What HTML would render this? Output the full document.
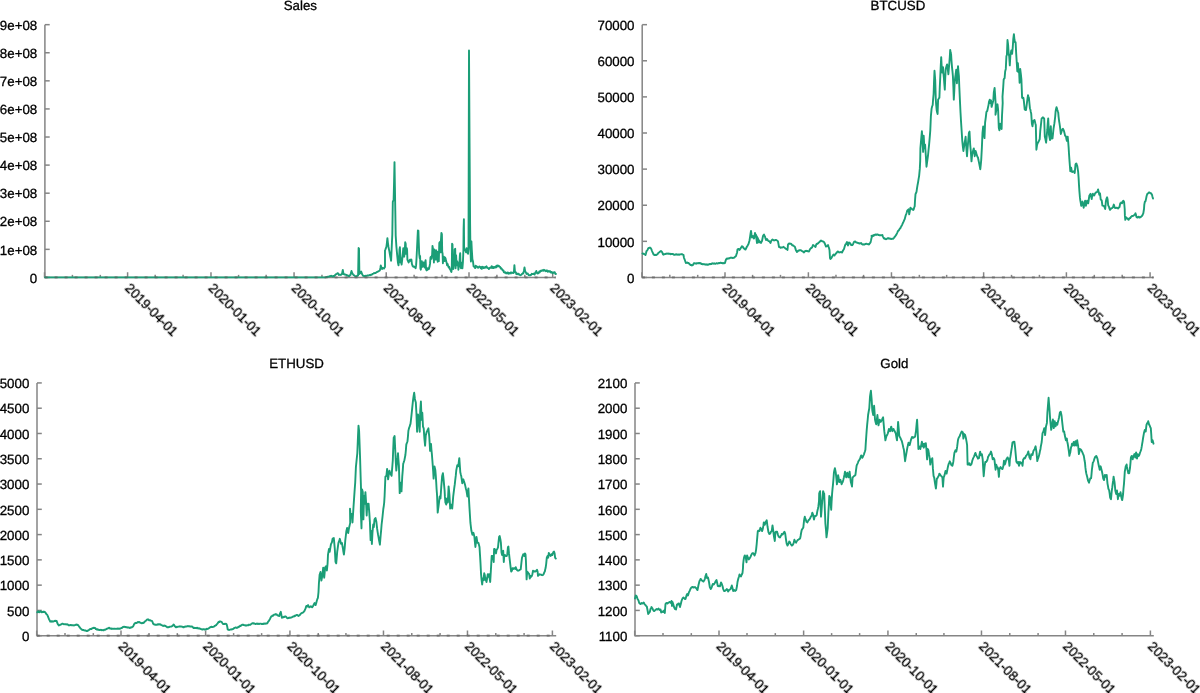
<!DOCTYPE html><html><head><meta charset="utf-8"><style>html,body{margin:0;padding:0;background:#fff;}svg{display:block} text{will-change:transform;text-rendering:geometricPrecision;stroke:#000;stroke-width:0.3px}</style></head><body>
<svg width="1200" height="693" viewBox="0 0 1200 693" font-family="Liberation Sans, sans-serif" font-size="13.3">
<rect width="1200" height="693" fill="#fff"/>
<g><text x="300.32" y="10.07" text-anchor="middle">Sales</text><line x1="44.90" y1="277.45" x2="49.70" y2="277.45" stroke="#858585" stroke-width="1.5"/><text x="37.20" y="282.65" text-anchor="end">0</text><line x1="44.90" y1="249.36" x2="49.70" y2="249.36" stroke="#858585" stroke-width="1.5"/><text x="37.20" y="254.56" text-anchor="end">1e+08</text><line x1="44.90" y1="221.28" x2="49.70" y2="221.28" stroke="#858585" stroke-width="1.5"/><text x="37.20" y="226.48" text-anchor="end">2e+08</text><line x1="44.90" y1="193.19" x2="49.70" y2="193.19" stroke="#858585" stroke-width="1.5"/><text x="37.20" y="198.39" text-anchor="end">3e+08</text><line x1="44.90" y1="165.10" x2="49.70" y2="165.10" stroke="#858585" stroke-width="1.5"/><text x="37.20" y="170.30" text-anchor="end">4e+08</text><line x1="44.90" y1="137.02" x2="49.70" y2="137.02" stroke="#858585" stroke-width="1.5"/><text x="37.20" y="142.22" text-anchor="end">5e+08</text><line x1="44.90" y1="108.93" x2="49.70" y2="108.93" stroke="#858585" stroke-width="1.5"/><text x="37.20" y="114.13" text-anchor="end">6e+08</text><line x1="44.90" y1="80.84" x2="49.70" y2="80.84" stroke="#858585" stroke-width="1.5"/><text x="37.20" y="86.04" text-anchor="end">7e+08</text><line x1="44.90" y1="52.76" x2="49.70" y2="52.76" stroke="#858585" stroke-width="1.5"/><text x="37.20" y="57.96" text-anchor="end">8e+08</text><line x1="44.90" y1="24.67" x2="49.70" y2="24.67" stroke="#858585" stroke-width="1.5"/><text x="37.20" y="29.87" text-anchor="end">9e+08</text><line x1="44.52" y1="277.45" x2="44.52" y2="272.25" stroke="#858585" stroke-width="1.5"/><line x1="127.60" y1="277.45" x2="127.60" y2="272.25" stroke="#858585" stroke-width="1.5"/><text transform="translate(124.30,288.85) rotate(45)">2019-04-01</text><line x1="210.98" y1="277.45" x2="210.98" y2="272.25" stroke="#858585" stroke-width="1.5"/><text transform="translate(207.68,288.85) rotate(45)">2020-01-01</text><line x1="294.06" y1="277.45" x2="294.06" y2="272.25" stroke="#858585" stroke-width="1.5"/><text transform="translate(290.76,288.85) rotate(45)">2020-10-01</text><line x1="386.23" y1="277.45" x2="386.23" y2="272.25" stroke="#858585" stroke-width="1.5"/><text transform="translate(382.93,288.85) rotate(45)">2021-08-01</text><line x1="469.00" y1="277.45" x2="469.00" y2="272.25" stroke="#858585" stroke-width="1.5"/><text transform="translate(465.70,288.85) rotate(45)">2022-05-01</text><line x1="552.69" y1="277.45" x2="552.69" y2="272.25" stroke="#858585" stroke-width="1.5"/><text transform="translate(549.39,288.85) rotate(45)">2023-02-01</text><line x1="72.42" y1="277.45" x2="72.42" y2="274.85" stroke="#858585" stroke-width="1.5"/><line x1="100.31" y1="277.45" x2="100.31" y2="274.85" stroke="#858585" stroke-width="1.5"/><line x1="155.19" y1="277.45" x2="155.19" y2="274.85" stroke="#858585" stroke-width="1.5"/><line x1="183.09" y1="277.45" x2="183.09" y2="274.85" stroke="#858585" stroke-width="1.5"/><line x1="238.57" y1="277.45" x2="238.57" y2="274.85" stroke="#858585" stroke-width="1.5"/><line x1="266.16" y1="277.45" x2="266.16" y2="274.85" stroke="#858585" stroke-width="1.5"/><line x1="321.95" y1="277.45" x2="321.95" y2="274.85" stroke="#858585" stroke-width="1.5"/><line x1="349.24" y1="277.45" x2="349.24" y2="274.85" stroke="#858585" stroke-width="1.5"/><line x1="414.12" y1="277.45" x2="414.12" y2="274.85" stroke="#858585" stroke-width="1.5"/><line x1="442.02" y1="277.45" x2="442.02" y2="274.85" stroke="#858585" stroke-width="1.5"/><line x1="496.90" y1="277.45" x2="496.90" y2="274.85" stroke="#858585" stroke-width="1.5"/><line x1="524.79" y1="277.45" x2="524.79" y2="274.85" stroke="#858585" stroke-width="1.5"/><path d="M44.90 24.67V277.45H555.75" fill="none" stroke="#858585" stroke-width="1.5"/><path d="M45.0 277.4 L300.0 277.4 L325.0 277.4 L329.0 276.5 L331.0 275.8 L331.5 275.9 L332.0 276.1 L332.5 276.5 L333.0 276.5 L333.5 276.0 L334.0 276.2 L334.5 275.8 L335.0 275.2 L335.5 274.8 L336.0 274.2 L336.5 274.1 L337.0 273.8 L337.5 273.2 L338.0 273.2 L338.5 274.1 L339.0 275.0 L339.4 274.7 L339.8 274.7 L340.2 274.8 L340.6 275.0 L341.0 274.8 L341.5 274.2 L342.0 274.0 L342.4 271.8 L342.8 270.0 L343.5 274.0 L344.0 274.2 L344.5 274.6 L345.0 274.5 L345.5 274.7 L346.0 274.8 L346.5 275.0 L347.0 275.6 L347.5 275.3 L348.0 275.8 L348.5 276.1 L349.0 275.8 L349.5 276.0 L350.0 275.3 L350.5 275.0 L351.0 272.8 L351.5 271.0 L352.2 273.0 L352.6 273.6 L353.1 274.5 L353.5 275.0 L354.0 275.1 L354.5 275.7 L355.0 276.0 L355.5 276.1 L356.0 276.1 L356.5 276.2 L356.9 276.1 L357.3 275.6 L357.7 275.4 L358.1 275.5 L358.6 248.0 L359.0 248.5 L359.4 274.0 L359.9 273.3 L360.5 273.0 L361.2 271.5 L361.6 272.9 L362.0 274.0 L362.5 274.9 L363.0 275.8 L363.5 275.8 L364.0 276.1 L364.5 276.2 L365.0 276.0 L365.5 275.8 L366.0 275.8 L366.4 275.9 L366.8 275.8 L367.2 275.5 L367.6 275.6 L368.0 275.5 L368.4 275.4 L368.8 275.5 L369.2 275.3 L369.6 275.0 L370.0 275.0 L370.4 275.2 L370.8 274.6 L371.2 274.6 L371.6 274.8 L372.0 274.5 L372.5 274.0 L373.0 273.8 L373.5 273.5 L374.0 273.1 L374.5 273.3 L375.0 273.0 L375.4 273.0 L375.8 272.6 L376.2 272.6 L376.6 272.1 L377.0 272.0 L377.4 271.9 L377.8 271.7 L378.2 271.4 L378.6 271.2 L379.0 271.0 L379.5 270.7 L380.0 270.0 L380.4 268.0 L380.8 265.5 L381.5 267.5 L382.2 269.0 L382.6 268.5 L383.0 268.0 L383.5 268.4 L384.0 268.5 L384.5 267.5 L385.0 267.0 L385.0 250.3 L385.5 249.3 L385.9 248.1 L386.4 246.9 L386.9 242.9 L387.4 238.2 L387.9 242.8 L388.5 246.9 L388.9 249.1 L389.4 251.4 L389.8 253.8 L390.2 256.2 L390.6 258.1 L391.1 260.7 L391.5 252.1 L391.9 243.2 L392.3 234.8 L392.8 201.9 L393.2 200.8 L393.6 200.2 L394.1 180.9 L394.5 162.1 L394.9 186.8 L395.3 211.0 L395.7 235.8 L396.4 246.6 L397.2 255.3 L397.9 262.5 L398.5 265.4 L399.0 259.6 L399.5 249.5 L399.9 247.3 L400.2 253.8 L400.6 262.5 L401.1 258.2 L401.6 264.6 L402.2 259.6 L402.8 253.8 L403.3 248.1 L403.8 248.8 L404.2 256.7 L404.7 252.4 L405.2 242.3 L405.7 243.8 L406.0 253.8 L406.4 252.4 L406.8 248.1 L407.1 250.2 L407.4 259.6 L408.0 261.1 L408.7 262.5 L409.4 260.3 L410.1 259.6 L410.9 261.1 L411.4 259.6 L411.9 263.9 L412.7 266.1 L413.4 266.8 L414.1 266.5 L414.8 267.2 L415.6 268.3 L416.1 265.4 L416.5 258.9 L417.0 248.8 L417.5 238.0 L417.9 230.4 L418.4 230.8 L418.8 243.0 L419.2 253.8 L419.7 258.2 L420.1 256.0 L420.4 268.3 L420.8 269.7 L421.3 265.4 L421.8 261.1 L422.4 266.8 L423.0 265.4 L423.5 262.5 L424.0 265.4 L424.6 267.5 L425.1 262.5 L425.6 260.3 L426.1 269.7 L426.7 270.4 L427.3 268.3 L427.8 269.7 L428.3 268.3 L428.9 269.0 L429.5 266.8 L430.0 263.9 L430.5 257.4 L431.1 256.7 L431.6 258.9 L432.1 255.3 L432.5 245.9 L432.9 248.1 L433.2 255.3 L433.6 250.2 L433.9 262.5 L434.3 249.5 L434.8 251.0 L435.2 259.6 L435.6 251.0 L436.1 250.2 L436.7 259.6 L437.2 251.7 L437.7 261.8 L438.3 251.7 L438.8 261.1 L439.3 243.0 L439.7 242.3 L440.3 241.6 L440.6 252.4 L441.0 239.4 L441.4 232.9 L441.9 234.4 L442.2 251.7 L442.6 253.8 L442.9 263.2 L443.3 256.7 L443.9 256.7 L444.4 261.1 L444.9 257.4 L445.5 258.2 L446.1 261.1 L446.6 262.5 L447.1 265.4 L447.6 263.9 L448.2 266.1 L448.7 267.5 L449.2 266.8 L449.8 269.0 L450.4 269.7 L450.9 271.1 L451.4 271.9 L451.8 268.3 L452.1 243.8 L452.5 244.5 L452.9 266.8 L453.3 269.0 L453.8 262.5 L454.3 265.4 L454.7 249.5 L455.2 248.8 L455.6 268.3 L456.1 255.3 L456.6 265.4 L457.1 261.1 L457.6 262.5 L458.1 265.4 L458.4 269.7 L459.0 264.6 L459.5 262.5 L459.9 255.3 L460.2 253.1 L460.6 266.8 L461.0 268.3 L461.3 262.5 L461.9 265.4 L462.4 268.3 L462.9 262.5 L463.4 250.2 L463.6 229.3 L463.9 219.2 L464.1 246.6 L464.6 250.2 L465.3 249.5 L466.0 252.4 L466.7 248.1 L467.5 252.4 L468.0 253.8 L468.5 248.8 L469.0 50.5 L469.5 136.9 L470.1 223.7 L470.4 247.3 L470.9 261.5 L471.4 241.4 L471.8 249.7 L472.4 259.2 L473.0 261.5 L473.6 266.3 L474.2 266.6 L474.8 267.5 L475.2 268.1 L475.7 265.8 L476.1 266.4 L476.6 266.3 L477.0 266.5 L477.5 267.5 L478.0 267.5 L478.5 267.7 L478.9 266.9 L479.4 266.4 L479.9 266.9 L480.4 266.9 L480.8 268.3 L481.3 267.5 L481.8 268.8 L482.2 266.8 L482.7 267.0 L483.2 267.2 L483.7 268.1 L484.1 267.2 L484.6 267.8 L485.1 267.9 L485.6 267.0 L486.0 267.5 L486.5 266.3 L487.0 267.5 L487.5 267.5 L487.9 268.1 L488.4 268.1 L488.9 269.1 L489.4 268.3 L489.8 267.7 L490.3 267.9 L490.8 267.5 L491.2 267.8 L491.7 266.1 L492.2 268.1 L492.7 267.7 L493.1 266.9 L493.6 268.0 L494.1 267.9 L494.6 266.9 L495.0 267.1 L495.5 267.5 L496.0 266.2 L496.4 267.3 L496.9 265.6 L497.4 265.4 L497.9 266.3 L498.3 265.7 L498.8 265.7 L499.2 266.3 L499.6 266.9 L500.2 267.0 L500.8 268.6 L501.3 268.3 L501.7 269.0 L502.2 269.3 L502.6 270.4 L503.1 270.6 L503.5 270.5 L503.9 272.3 L504.4 272.2 L504.8 272.7 L505.3 272.2 L505.7 272.7 L506.1 273.4 L506.6 273.0 L507.1 272.9 L507.6 272.4 L508.1 273.5 L508.5 272.8 L509.0 273.7 L509.5 273.0 L509.9 273.1 L510.4 272.6 L510.9 273.4 L511.3 272.6 L511.8 272.8 L512.2 272.6 L512.7 272.8 L513.2 273.0 L513.9 272.2 L514.4 265.1 L515.0 272.2 L515.5 272.1 L515.9 272.3 L516.4 274.2 L516.8 274.0 L517.3 274.1 L517.8 273.6 L518.2 274.4 L518.7 273.7 L519.2 274.6 L519.6 274.6 L520.1 275.3 L520.6 275.1 L521.1 274.9 L521.5 274.6 L522.0 273.9 L522.4 273.8 L522.9 273.1 L523.3 273.4 L523.9 270.9 L524.5 267.5 L525.1 271.0 L525.7 272.2 L526.3 273.4 L526.7 274.0 L527.2 273.4 L527.6 273.4 L528.0 274.0 L528.5 274.8 L528.9 275.3 L529.4 275.4 L529.8 275.1 L530.3 275.4 L530.8 275.2 L531.2 274.8 L531.7 273.8 L532.2 274.0 L532.7 274.1 L533.1 274.0 L533.6 273.6 L534.1 273.7 L534.6 274.6 L535.0 273.3 L535.4 272.4 L535.9 272.2 L536.3 271.0 L536.9 272.9 L537.5 273.4 L538.0 272.8 L538.4 273.2 L538.9 272.8 L539.3 271.6 L539.8 272.2 L540.2 271.1 L540.7 270.8 L541.2 270.7 L541.7 271.0 L542.1 270.3 L542.6 270.1 L543.1 270.5 L543.5 270.7 L544.0 269.8 L544.5 270.6 L545.0 270.3 L545.4 270.8 L545.9 271.2 L546.4 271.0 L546.9 270.3 L547.3 271.3 L547.8 271.7 L548.3 271.5 L548.8 271.0 L549.2 271.6 L549.7 271.4 L550.2 271.2 L550.6 272.4 L551.1 272.2 L551.6 272.0 L552.1 272.9 L552.5 273.3 L553.0 272.5 L553.5 272.8 L554.1 272.3 L554.7 272.2 L555.3 273.8 L555.9 274.0" fill="none" stroke="#1b9e77" stroke-width="1.9" stroke-linejoin="round" stroke-linecap="round"/><line x1="44.90" y1="277.45" x2="555.75" y2="277.45" stroke="#5a5a5a" stroke-opacity="0.55" stroke-width="2.2" stroke-dasharray="3 7" stroke-dashoffset="0.3"/></g>
<g><text x="897.95" y="10.07" text-anchor="middle">BTCUSD</text><line x1="642.20" y1="277.45" x2="647.00" y2="277.45" stroke="#858585" stroke-width="1.5"/><text x="634.50" y="282.65" text-anchor="end">0</text><line x1="642.20" y1="241.34" x2="647.00" y2="241.34" stroke="#858585" stroke-width="1.5"/><text x="634.50" y="246.54" text-anchor="end">10000</text><line x1="642.20" y1="205.23" x2="647.00" y2="205.23" stroke="#858585" stroke-width="1.5"/><text x="634.50" y="210.43" text-anchor="end">20000</text><line x1="642.20" y1="169.12" x2="647.00" y2="169.12" stroke="#858585" stroke-width="1.5"/><text x="634.50" y="174.32" text-anchor="end">30000</text><line x1="642.20" y1="133.00" x2="647.00" y2="133.00" stroke="#858585" stroke-width="1.5"/><text x="634.50" y="138.20" text-anchor="end">40000</text><line x1="642.20" y1="96.89" x2="647.00" y2="96.89" stroke="#858585" stroke-width="1.5"/><text x="634.50" y="102.09" text-anchor="end">50000</text><line x1="642.20" y1="60.78" x2="647.00" y2="60.78" stroke="#858585" stroke-width="1.5"/><text x="634.50" y="65.98" text-anchor="end">60000</text><line x1="642.20" y1="24.67" x2="647.00" y2="24.67" stroke="#858585" stroke-width="1.5"/><text x="634.50" y="29.87" text-anchor="end">70000</text><line x1="641.92" y1="277.45" x2="641.92" y2="272.25" stroke="#858585" stroke-width="1.5"/><line x1="725.00" y1="277.45" x2="725.00" y2="272.25" stroke="#858585" stroke-width="1.5"/><text transform="translate(721.70,288.85) rotate(45)">2019-04-01</text><line x1="808.38" y1="277.45" x2="808.38" y2="272.25" stroke="#858585" stroke-width="1.5"/><text transform="translate(805.08,288.85) rotate(45)">2020-01-01</text><line x1="891.46" y1="277.45" x2="891.46" y2="272.25" stroke="#858585" stroke-width="1.5"/><text transform="translate(888.16,288.85) rotate(45)">2020-10-01</text><line x1="983.63" y1="277.45" x2="983.63" y2="272.25" stroke="#858585" stroke-width="1.5"/><text transform="translate(980.33,288.85) rotate(45)">2021-08-01</text><line x1="1066.40" y1="277.45" x2="1066.40" y2="272.25" stroke="#858585" stroke-width="1.5"/><text transform="translate(1063.10,288.85) rotate(45)">2022-05-01</text><line x1="1150.09" y1="277.45" x2="1150.09" y2="272.25" stroke="#858585" stroke-width="1.5"/><text transform="translate(1146.79,288.85) rotate(45)">2023-02-01</text><line x1="669.82" y1="277.45" x2="669.82" y2="274.85" stroke="#858585" stroke-width="1.5"/><line x1="697.71" y1="277.45" x2="697.71" y2="274.85" stroke="#858585" stroke-width="1.5"/><line x1="752.59" y1="277.45" x2="752.59" y2="274.85" stroke="#858585" stroke-width="1.5"/><line x1="780.49" y1="277.45" x2="780.49" y2="274.85" stroke="#858585" stroke-width="1.5"/><line x1="835.97" y1="277.45" x2="835.97" y2="274.85" stroke="#858585" stroke-width="1.5"/><line x1="863.56" y1="277.45" x2="863.56" y2="274.85" stroke="#858585" stroke-width="1.5"/><line x1="919.35" y1="277.45" x2="919.35" y2="274.85" stroke="#858585" stroke-width="1.5"/><line x1="946.64" y1="277.45" x2="946.64" y2="274.85" stroke="#858585" stroke-width="1.5"/><line x1="1011.52" y1="277.45" x2="1011.52" y2="274.85" stroke="#858585" stroke-width="1.5"/><line x1="1039.42" y1="277.45" x2="1039.42" y2="274.85" stroke="#858585" stroke-width="1.5"/><line x1="1094.30" y1="277.45" x2="1094.30" y2="274.85" stroke="#858585" stroke-width="1.5"/><line x1="1122.19" y1="277.45" x2="1122.19" y2="274.85" stroke="#858585" stroke-width="1.5"/><path d="M642.20 24.67V277.45H1153.70" fill="none" stroke="#858585" stroke-width="1.5"/><path d="M642.5 253.5 L643.0 253.8 L643.5 253.6 L644.0 254.0 L644.5 254.1 L645.0 254.5 L645.5 255.0 L646.0 253.2 L646.5 251.0 L647.0 250.7 L647.5 250.0 L648.0 248.8 L648.5 248.0 L649.0 248.0 L649.5 247.9 L650.0 247.5 L650.5 248.1 L651.0 248.5 L651.5 249.7 L652.0 251.0 L652.5 252.2 L653.0 253.1 L653.5 254.5 L654.0 254.4 L654.5 255.1 L655.0 255.0 L655.4 255.0 L655.8 254.8 L656.2 255.0 L656.6 254.6 L657.0 254.5 L657.4 254.3 L657.8 253.9 L658.2 253.1 L658.6 252.8 L659.0 252.5 L659.4 252.1 L659.8 251.7 L660.2 251.7 L660.6 251.2 L661.0 251.0 L661.5 251.4 L662.0 252.0 L662.5 253.0 L663.0 254.5 L663.4 254.7 L663.8 254.2 L664.2 254.2 L664.6 254.2 L665.0 254.0 L665.4 254.1 L665.8 253.8 L666.2 253.9 L666.6 253.6 L667.0 253.5 L667.4 253.6 L667.9 253.7 L668.3 253.4 L668.7 253.8 L669.1 253.7 L669.6 253.6 L670.0 254.0 L670.4 254.2 L670.9 253.8 L671.3 254.0 L671.7 254.1 L672.1 254.0 L672.6 253.9 L673.0 254.0 L673.5 254.4 L674.0 254.8 L674.4 254.8 L674.8 254.8 L675.2 254.4 L675.6 254.6 L676.0 254.5 L676.4 254.3 L676.9 254.4 L677.3 254.7 L677.7 254.5 L678.1 254.5 L678.6 254.7 L679.0 254.5 L679.4 254.7 L679.9 254.4 L680.3 254.4 L680.7 254.3 L681.1 254.3 L681.6 254.4 L682.0 254.2 L682.5 254.4 L683.0 254.8 L683.5 255.0 L684.0 258.0 L684.5 259.2 L685.0 260.5 L685.5 262.0 L686.0 263.0 L686.5 262.9 L687.0 262.9 L687.5 262.5 L688.0 263.1 L688.5 263.0 L689.0 263.5 L689.5 264.0 L690.0 264.5 L690.4 265.0 L690.8 265.1 L691.2 264.9 L691.6 265.1 L692.0 265.5 L692.5 265.2 L693.0 265.0 L693.5 263.8 L694.0 263.2 L694.4 263.1 L694.8 263.1 L695.2 263.5 L695.6 263.6 L696.0 263.5 L696.4 263.7 L696.8 263.2 L697.2 263.4 L697.6 263.4 L698.0 263.2 L698.4 262.9 L698.8 263.4 L699.2 263.4 L699.6 262.9 L700.0 263.0 L700.4 263.5 L700.8 263.3 L701.2 263.6 L701.6 264.1 L702.0 264.0 L702.4 264.3 L702.9 263.9 L703.3 264.2 L703.7 264.3 L704.1 264.3 L704.6 264.2 L705.0 264.5 L705.4 264.4 L705.9 264.7 L706.3 264.3 L706.7 264.7 L707.1 264.7 L707.6 264.5 L708.0 264.8 L708.4 264.5 L708.8 264.6 L709.2 264.3 L709.6 263.9 L710.0 264.0 L710.4 264.2 L710.9 264.0 L711.3 264.1 L711.7 263.5 L712.1 263.5 L712.6 263.3 L713.0 263.5 L713.4 263.7 L713.9 263.4 L714.3 263.3 L714.7 263.4 L715.1 263.8 L715.6 263.7 L716.0 263.5 L716.4 263.3 L716.9 263.2 L717.3 263.6 L717.7 263.4 L718.1 263.4 L718.6 263.0 L719.0 263.2 L719.4 262.9 L719.8 263.1 L720.2 262.9 L720.6 262.6 L721.0 262.8 L721.4 263.1 L721.8 263.0 L722.2 263.2 L722.6 262.9 L723.0 263.2 L723.4 263.4 L723.8 262.9 L724.2 263.3 L724.6 263.0 L725.0 263.0 L725.5 261.1 L726.0 259.5 L726.5 259.0 L727.0 258.5 L727.4 258.8 L727.8 258.4 L728.2 258.3 L728.6 258.5 L729.0 258.5 L729.4 258.2 L729.8 258.0 L730.2 257.9 L730.6 257.7 L731.0 257.8 L731.4 257.7 L731.8 257.8 L732.2 257.8 L732.6 258.1 L733.0 258.0 L733.5 257.7 L734.0 257.7 L734.5 257.5 L735.0 256.8 L735.5 256.4 L736.0 256.0 L736.5 254.2 L737.0 253.0 L737.5 249.5 L738.0 249.1 L738.5 249.0 L739.0 249.2 L739.5 250.0 L740.0 249.4 L740.5 248.5 L741.0 247.8 L741.5 246.8 L742.0 246.2 L742.5 246.6 L743.0 247.0 L743.5 248.0 L744.0 248.5 L744.5 248.6 L745.0 249.4 L745.5 249.5 L746.0 248.5 L746.5 247.5 L747.0 246.5 L747.5 245.9 L748.0 244.8 L748.5 244.0 L749.0 242.2 L749.5 240.5 L750.0 237.4 L750.5 234.0 L751.0 231.0 L751.5 234.5 L752.0 237.5 L752.5 236.7 L753.0 236.0 L753.5 237.4 L754.0 238.5 L754.5 235.9 L755.0 233.0 L755.5 234.6 L756.0 236.0 L756.5 239.4 L757.0 243.0 L757.5 240.9 L758.0 239.0 L758.5 239.7 L759.0 240.8 L759.5 242.0 L759.1 240.9 L758.6 240.4 L758.2 239.2 L757.8 238.3 L757.3 237.4 L756.9 236.9 L756.4 236.1 L756.0 235.0 L756.5 238.6 L757.0 242.0 L757.5 240.4 L758.0 239.0 L758.5 240.6 L759.0 242.5 L759.5 241.9 L760.0 241.5 L760.5 242.2 L761.0 243.0 L761.5 241.8 L762.0 241.0 L762.5 238.5 L763.0 236.0 L763.5 235.1 L764.0 234.5 L764.5 235.8 L765.0 236.5 L765.5 238.5 L766.0 240.0 L766.5 239.5 L767.0 239.0 L767.5 239.6 L768.0 240.5 L768.5 241.1 L769.0 241.1 L769.5 241.5 L770.0 242.2 L770.5 243.0 L771.0 241.4 L771.5 240.5 L772.0 239.9 L772.5 239.5 L773.0 239.8 L773.5 240.2 L774.0 240.5 L774.5 240.2 L775.0 240.2 L775.5 240.0 L776.0 239.9 L776.5 240.2 L777.0 240.5 L777.5 240.8 L778.0 241.5 L778.5 244.2 L779.0 247.0 L779.5 247.0 L780.0 247.2 L780.5 247.8 L781.0 247.6 L781.5 247.4 L782.0 247.5 L782.5 247.3 L783.0 247.1 L783.5 246.8 L784.0 247.3 L784.5 247.7 L785.0 248.0 L785.5 248.5 L786.0 248.9 L786.5 249.0 L787.0 249.4 L787.5 250.0 L788.0 244.5 L788.5 243.9 L789.0 243.5 L789.4 243.8 L789.8 243.4 L790.2 243.8 L790.6 243.8 L791.0 243.8 L791.5 244.1 L792.0 245.0 L792.5 245.4 L793.0 245.6 L793.5 245.5 L794.0 246.1 L794.5 246.6 L795.0 247.0 L795.5 248.9 L796.0 250.5 L796.5 251.0 L797.0 252.0 L797.5 251.5 L798.0 251.0 L798.5 250.5 L799.0 250.5 L799.5 250.3 L800.0 250.0 L800.5 250.4 L801.0 250.4 L801.5 250.5 L802.0 251.1 L802.5 251.3 L803.0 251.5 L803.5 252.1 L804.0 252.5 L804.5 251.8 L805.0 251.2 L805.5 251.0 L806.0 250.8 L806.5 250.9 L807.0 251.0 L807.4 250.9 L807.8 251.4 L808.2 251.3 L808.6 251.5 L809.0 251.5 L809.5 250.3 L810.0 249.0 L810.4 248.8 L810.8 248.4 L811.2 247.8 L811.6 248.0 L812.0 247.5 L812.5 246.4 L813.0 245.0 L813.5 245.3 L814.0 245.7 L814.5 246.0 L815.0 246.6 L815.5 247.0 L816.0 245.2 L816.5 244.0 L817.0 244.0 L817.5 243.5 L818.0 243.5 L818.5 242.7 L819.0 242.4 L819.5 242.0 L820.0 241.6 L820.5 240.8 L821.0 240.5 L821.5 240.9 L822.0 241.2 L822.5 241.2 L823.0 241.5 L823.5 241.7 L824.0 242.0 L824.5 243.0 L825.0 244.0 L825.5 245.4 L826.0 246.5 L826.5 246.4 L827.0 246.0 L827.5 245.6 L828.0 245.0 L828.5 246.6 L829.0 248.0 L829.5 250.0 L830.0 258.0 L830.5 259.0 L831.0 258.2 L831.5 258.0 L832.0 256.8 L832.5 256.0 L833.0 255.1 L833.5 254.5 L834.0 255.2 L834.5 255.5 L835.0 254.6 L835.5 254.0 L836.0 253.5 L836.5 253.0 L837.0 252.2 L837.5 251.7 L838.0 251.5 L838.5 251.9 L839.0 252.5 L839.5 252.4 L840.0 252.3 L840.5 252.0 L841.0 252.3 L841.5 252.2 L842.0 252.5 L842.5 251.5 L843.0 250.5 L843.5 249.7 L844.0 249.0 L844.5 247.2 L845.0 245.5 L845.5 244.4 L846.0 244.1 L846.5 243.0 L847.0 242.0 L847.5 243.6 L848.0 245.5 L848.5 244.3 L849.0 242.5 L849.5 243.0 L850.0 243.0 L850.5 243.7 L851.0 245.0 L851.5 245.0 L852.0 245.2 L852.5 245.0 L853.0 244.3 L853.5 243.0 L854.0 242.0 L854.5 241.6 L855.0 241.5 L855.5 241.7 L856.0 242.4 L856.5 242.5 L857.0 242.5 L857.5 242.9 L858.0 243.0 L858.4 242.9 L858.8 243.2 L859.2 243.6 L859.6 243.2 L860.0 243.5 L860.5 243.4 L861.0 243.0 L861.5 243.5 L862.0 244.2 L862.5 244.5 L863.0 244.6 L863.5 244.3 L864.0 244.5 L864.5 244.6 L865.0 244.2 L865.5 244.0 L866.0 243.7 L866.5 243.7 L867.0 244.0 L867.4 244.1 L867.8 244.2 L868.2 244.2 L868.6 244.2 L869.0 244.5 L869.5 243.7 L870.0 243.1 L870.5 242.5 L871.0 240.4 L871.5 238.0 L872.0 236.7 L872.5 236.0 L873.0 236.0 L873.5 235.9 L874.0 235.5 L873.6 235.3 L873.1 235.9 L872.7 235.9 L872.3 236.1 L871.9 235.8 L871.4 236.0 L871.9 235.7 L872.3 235.6 L872.7 235.8 L873.1 235.4 L873.5 235.2 L873.9 235.1 L874.3 234.9 L874.7 234.8 L875.1 234.6 L875.6 234.5 L876.0 234.9 L876.4 234.5 L876.8 234.8 L877.2 234.5 L877.6 234.5 L878.1 234.7 L878.5 235.0 L879.0 234.9 L879.4 235.2 L879.8 235.1 L880.2 235.4 L880.6 235.3 L881.0 235.3 L881.4 235.1 L881.9 235.2 L882.3 234.9 L882.8 236.3 L883.2 237.1 L883.7 238.1 L884.1 238.5 L884.6 238.3 L885.0 239.0 L885.4 239.0 L885.9 239.3 L886.3 239.2 L886.7 238.9 L887.2 238.5 L887.6 238.1 L888.0 238.1 L888.5 238.5 L888.9 238.2 L889.3 238.5 L889.8 238.6 L890.2 238.8 L890.6 238.7 L891.0 239.0 L891.4 239.1 L891.9 238.7 L892.3 238.9 L892.7 238.7 L893.1 238.8 L893.5 238.4 L894.0 237.8 L894.4 237.2 L894.8 236.7 L895.2 236.4 L895.7 235.3 L896.2 234.9 L896.7 233.8 L897.2 232.8 L897.7 231.7 L898.1 230.9 L898.6 230.6 L899.0 230.2 L899.4 229.3 L899.9 228.6 L900.3 228.3 L900.7 227.3 L901.2 226.5 L901.6 225.8 L902.0 225.1 L902.6 223.6 L903.2 222.5 L903.7 221.3 L904.1 220.3 L904.6 219.4 L905.2 217.2 L905.8 215.0 L906.3 213.8 L906.8 212.3 L907.2 210.7 L907.7 210.2 L908.2 209.7 L908.7 209.3 L909.2 214.3 L909.8 211.1 L910.4 207.8 L910.8 208.1 L911.3 208.4 L911.7 208.6 L912.1 209.3 L912.7 209.5 L913.3 210.0 L913.8 209.1 L914.2 207.4 L914.7 206.4 L915.0 200.6 L915.5 194.1 L916.0 193.0 L916.5 191.9 L917.0 188.4 L917.6 184.7 L918.1 182.1 L918.6 178.8 L919.1 176.1 L919.8 168.9 L920.2 160.9 L920.4 148.3 L920.9 142.4 L921.4 136.7 L921.9 131.2 L922.6 141.1 L923.1 151.9 L923.7 135.7 L924.4 148.3 L925.1 144.7 L925.8 155.5 L926.5 166.7 L927.0 162.9 L927.5 159.2 L928.0 155.5 L928.5 150.4 L929.1 144.7 L929.5 140.1 L929.9 135.3 L930.3 130.2 L930.9 115.8 L931.6 108.6 L932.1 106.5 L932.7 105.0 L933.1 99.3 L933.6 94.2 L934.0 82.5 L934.5 70.7 L935.2 79.7 L935.8 99.6 L936.2 105.2 L936.7 110.4 L937.1 112.2 L937.6 114.0 L938.1 99.6 L938.5 99.0 L939.0 98.1 L939.4 97.8 L939.8 86.9 L940.3 76.1 L940.7 66.9 L941.2 57.1 L941.6 65.0 L942.1 72.5 L942.5 70.0 L943.0 67.1 L943.4 72.8 L943.9 77.9 L944.3 83.6 L944.8 89.6 L945.2 79.0 L945.7 68.9 L946.2 67.2 L946.6 65.9 L947.1 64.4 L947.5 67.8 L948.0 71.2 L948.4 74.3 L948.8 69.0 L949.3 63.5 L949.8 56.8 L950.2 49.9 L950.6 52.3 L951.1 54.4 L951.5 60.7 L952.0 67.1 L952.5 71.6 L952.9 76.1 L953.4 87.6 L953.8 99.6 L954.3 90.7 L954.7 81.5 L955.2 77.4 L955.7 74.0 L956.2 69.8 L956.9 83.3 L957.4 74.8 L958.0 66.2 L958.4 71.0 L958.9 76.1 L959.3 86.7 L959.8 97.8 L960.5 112.2 L961.0 121.1 L961.6 130.2 L962.3 141.1 L962.8 146.1 L963.4 151.0 L963.8 148.3 L964.3 145.1 L964.7 142.2 L965.2 139.6 L965.6 136.8 L966.3 147.1 L967.0 156.2 L967.4 150.4 L967.9 144.6 L968.4 138.6 L968.9 132.9 L969.5 131.6 L970.2 144.6 L970.8 151.0 L971.5 161.4 L972.1 154.9 L972.6 152.8 L973.0 151.0 L973.8 148.4 L974.3 152.4 L974.7 156.2 L975.2 153.3 L975.6 151.0 L976.2 152.9 L976.7 154.9 L977.1 155.8 L977.5 156.9 L978.0 157.5 L978.4 159.8 L978.9 162.1 L979.3 164.0 L979.8 166.6 L980.3 169.2 L980.8 164.5 L981.2 160.1 L981.9 147.1 L982.5 132.9 L983.2 126.4 L983.8 132.9 L984.5 138.1 L985.1 122.5 L985.8 117.3 L986.4 112.1 L986.9 111.3 L987.3 110.8 L988.1 106.9 L988.6 104.6 L989.0 101.7 L989.7 99.7 L990.3 103.0 L991.0 100.4 L991.6 106.9 L992.3 104.3 L992.8 102.5 L993.3 100.4 L993.8 92.5 L994.2 90.1 L994.6 87.9 L995.2 96.6 L995.7 104.7 L995.5 114.7 L996.0 111.8 L996.4 109.5 L996.8 106.9 L997.5 104.3 L998.1 109.5 L998.8 127.7 L999.4 130.3 L1000.1 123.8 L1000.7 127.7 L1001.2 128.4 L1001.6 129.0 L1002.0 116.0 L1002.7 103.0 L1002.5 96.6 L1003.2 87.4 L1003.7 79.3 L1004.2 78.7 L1004.6 78.1 L1005.2 71.2 L1005.8 68.9 L1006.4 56.2 L1006.9 55.0 L1007.5 40.0 L1008.1 44.6 L1008.7 53.9 L1009.2 56.2 L1009.8 65.4 L1010.4 55.0 L1010.9 52.6 L1011.3 50.4 L1011.7 52.2 L1012.1 53.9 L1012.7 48.1 L1013.3 38.9 L1013.9 34.2 L1014.5 40.0 L1015.0 42.3 L1015.6 42.3 L1016.2 53.9 L1016.8 63.1 L1017.3 71.2 L1017.9 63.1 L1018.5 72.3 L1019.1 71.2 L1019.6 82.7 L1020.2 68.9 L1020.8 73.5 L1021.4 79.3 L1022.1 97.8 L1022.6 98.0 L1023.0 97.6 L1023.4 97.8 L1023.9 101.4 L1024.3 105.5 L1024.7 109.5 L1025.2 109.7 L1025.6 110.0 L1026.0 110.1 L1026.6 105.7 L1027.1 101.7 L1027.5 98.6 L1028.0 95.2 L1028.4 96.6 L1028.9 97.8 L1029.4 103.0 L1029.9 108.2 L1030.4 109.7 L1030.8 111.9 L1031.2 113.4 L1031.9 123.8 L1032.5 126.4 L1033.2 121.2 L1033.6 120.6 L1034.0 120.5 L1034.5 119.9 L1034.9 121.4 L1035.3 123.2 L1035.8 125.1 L1036.4 149.7 L1037.1 144.6 L1037.5 143.8 L1037.9 142.7 L1038.4 141.9 L1038.8 141.3 L1039.2 140.2 L1039.7 139.3 L1040.3 130.3 L1040.8 126.2 L1041.2 122.3 L1041.6 118.6 L1042.1 118.1 L1042.5 117.8 L1042.9 117.3 L1043.3 118.0 L1043.8 117.9 L1044.2 118.6 L1044.8 136.6 L1045.3 138.6 L1045.7 140.5 L1046.1 142.7 L1046.5 138.6 L1046.9 133.8 L1047.3 129.7 L1047.7 123.8 L1048.2 118.4 L1048.6 126.4 L1049.0 134.9 L1049.5 137.4 L1050.0 140.1 L1050.8 126.2 L1051.4 138.3 L1052.0 138.6 L1052.5 138.3 L1053.0 133.8 L1053.5 128.8 L1053.9 126.3 L1054.3 123.9 L1054.7 121.0 L1055.2 116.5 L1055.6 111.5 L1056.0 109.2 L1056.5 107.1 L1056.9 108.2 L1057.3 109.7 L1057.8 111.3 L1058.2 112.3 L1058.6 116.8 L1059.1 121.0 L1059.5 123.3 L1059.9 126.2 L1060.4 130.2 L1060.8 134.0 L1061.3 132.5 L1061.7 131.0 L1062.2 129.7 L1062.6 129.1 L1063.0 128.8 L1063.5 129.8 L1063.9 130.8 L1064.3 132.3 L1064.7 133.9 L1065.1 135.7 L1065.6 136.1 L1066.0 136.6 L1066.4 139.0 L1066.9 140.9 L1067.3 138.5 L1067.7 136.6 L1068.2 142.1 L1068.6 147.0 L1069.0 153.8 L1069.5 160.9 L1069.9 166.0 L1070.3 171.3 L1070.8 169.7 L1071.2 167.8 L1071.6 170.2 L1072.1 172.1 L1072.5 171.9 L1072.9 171.4 L1073.4 171.5 L1073.8 171.3 L1074.2 172.1 L1074.7 173.0 L1075.1 168.9 L1075.5 164.3 L1076.0 163.7 L1076.4 163.5 L1076.8 164.7 L1077.3 166.1 L1077.7 168.9 L1078.1 171.3 L1078.6 177.9 L1079.0 185.1 L1079.4 191.1 L1079.9 197.2 L1080.3 200.3 L1080.8 203.2 L1081.2 205.9 L1081.7 204.2 L1082.1 202.8 L1082.5 201.6 L1082.9 203.3 L1083.3 205.9 L1083.7 207.7 L1084.1 205.2 L1084.6 203.2 L1085.1 200.7 L1085.5 203.6 L1085.9 205.9 L1086.3 204.1 L1086.7 202.3 L1087.1 200.7 L1087.7 202.3 L1088.2 203.3 L1088.6 200.8 L1089.0 198.0 L1089.4 195.5 L1089.8 195.1 L1090.2 194.2 L1090.6 193.8 L1091.1 196.2 L1091.7 199.0 L1092.0 197.0 L1092.5 195.7 L1092.9 193.8 L1093.3 194.6 L1093.7 195.0 L1094.1 195.5 L1094.5 194.9 L1095.0 193.5 L1095.5 192.9 L1095.9 192.5 L1096.4 192.3 L1096.8 192.1 L1097.2 191.5 L1097.7 190.6 L1098.1 189.4 L1098.5 191.1 L1098.9 192.8 L1099.3 194.7 L1100.0 193.4 L1100.7 199.4 L1101.3 199.9 L1101.7 200.3 L1102.4 205.5 L1102.9 205.7 L1103.5 205.9 L1103.9 206.1 L1104.3 206.4 L1104.8 207.9 L1105.2 209.0 L1105.9 201.2 L1106.5 198.6 L1107.1 197.3 L1107.6 199.4 L1108.2 205.5 L1108.7 206.2 L1109.1 207.2 L1109.5 208.7 L1110.0 209.8 L1110.4 209.3 L1110.8 208.5 L1111.3 208.5 L1111.7 208.1 L1112.1 208.0 L1112.5 207.6 L1113.0 207.2 L1113.4 205.8 L1113.8 204.6 L1114.3 206.0 L1114.7 207.7 L1115.2 207.8 L1115.6 208.1 L1116.0 208.1 L1116.5 207.6 L1116.9 207.7 L1117.3 207.8 L1117.8 208.4 L1118.2 208.5 L1118.6 207.9 L1119.0 207.4 L1119.5 207.2 L1119.9 205.0 L1120.3 203.3 L1120.8 202.9 L1121.2 202.5 L1121.7 202.8 L1122.1 203.3 L1122.7 201.6 L1123.4 200.7 L1124.1 202.0 L1124.7 209.0 L1124.9 215.9 L1125.3 219.8 L1126.0 217.2 L1126.4 217.9 L1126.8 218.1 L1127.3 218.5 L1127.7 218.5 L1128.1 219.4 L1128.6 219.8 L1129.0 219.0 L1129.4 218.5 L1129.9 218.0 L1130.3 218.1 L1130.7 217.2 L1131.2 216.8 L1131.6 216.3 L1132.0 215.9 L1132.5 216.0 L1132.9 215.9 L1133.3 215.9 L1133.8 215.3 L1134.2 215.0 L1134.6 214.6 L1135.1 214.0 L1135.5 213.3 L1135.9 215.1 L1136.4 216.8 L1136.8 217.3 L1137.2 217.6 L1137.7 217.5 L1138.1 217.1 L1138.5 216.8 L1139.0 216.8 L1139.4 217.5 L1139.8 217.6 L1140.3 217.2 L1140.7 217.1 L1141.1 216.8 L1141.6 216.2 L1142.0 216.0 L1142.4 215.4 L1142.9 214.2 L1143.3 213.3 L1144.0 209.0 L1144.3 204.6 L1144.8 202.0 L1145.5 201.2 L1146.1 198.6 L1146.6 196.0 L1147.2 194.2 L1147.6 193.7 L1148.0 193.4 L1148.5 192.8 L1148.9 192.5 L1149.3 192.4 L1149.8 192.7 L1150.2 193.2 L1150.7 193.2 L1151.1 193.4 L1151.5 193.9 L1152.0 194.7 L1152.4 196.4 L1153.0 198.6" fill="none" stroke="#1b9e77" stroke-width="1.9" stroke-linejoin="round" stroke-linecap="round"/><line x1="642.20" y1="277.45" x2="1153.70" y2="277.45" stroke="#5a5a5a" stroke-opacity="0.55" stroke-width="2.2" stroke-dasharray="3 7" stroke-dashoffset="0.3"/></g>
<g><text x="296.60" y="368.33" text-anchor="middle">ETHUSD</text><line x1="37.00" y1="635.70" x2="41.80" y2="635.70" stroke="#858585" stroke-width="1.5"/><text x="29.30" y="640.90" text-anchor="end">0</text><line x1="37.00" y1="610.42" x2="41.80" y2="610.42" stroke="#858585" stroke-width="1.5"/><text x="29.30" y="615.62" text-anchor="end">500</text><line x1="37.00" y1="585.15" x2="41.80" y2="585.15" stroke="#858585" stroke-width="1.5"/><text x="29.30" y="590.35" text-anchor="end">1000</text><line x1="37.00" y1="559.87" x2="41.80" y2="559.87" stroke="#858585" stroke-width="1.5"/><text x="29.30" y="565.07" text-anchor="end">1500</text><line x1="37.00" y1="534.59" x2="41.80" y2="534.59" stroke="#858585" stroke-width="1.5"/><text x="29.30" y="539.79" text-anchor="end">2000</text><line x1="37.00" y1="509.32" x2="41.80" y2="509.32" stroke="#858585" stroke-width="1.5"/><text x="29.30" y="514.52" text-anchor="end">2500</text><line x1="37.00" y1="484.04" x2="41.80" y2="484.04" stroke="#858585" stroke-width="1.5"/><text x="29.30" y="489.24" text-anchor="end">3000</text><line x1="37.00" y1="458.76" x2="41.80" y2="458.76" stroke="#858585" stroke-width="1.5"/><text x="29.30" y="463.96" text-anchor="end">3500</text><line x1="37.00" y1="433.48" x2="41.80" y2="433.48" stroke="#858585" stroke-width="1.5"/><text x="29.30" y="438.68" text-anchor="end">4000</text><line x1="37.00" y1="408.21" x2="41.80" y2="408.21" stroke="#858585" stroke-width="1.5"/><text x="29.30" y="413.41" text-anchor="end">4500</text><line x1="37.00" y1="382.93" x2="41.80" y2="382.93" stroke="#858585" stroke-width="1.5"/><text x="29.30" y="388.13" text-anchor="end">5000</text><line x1="36.69" y1="635.70" x2="36.69" y2="630.50" stroke="#858585" stroke-width="1.5"/><line x1="121.00" y1="635.70" x2="121.00" y2="630.50" stroke="#858585" stroke-width="1.5"/><text transform="translate(117.70,647.10) rotate(45)">2019-04-01</text><line x1="205.62" y1="635.70" x2="205.62" y2="630.50" stroke="#858585" stroke-width="1.5"/><text transform="translate(202.32,647.10) rotate(45)">2020-01-01</text><line x1="289.93" y1="635.70" x2="289.93" y2="630.50" stroke="#858585" stroke-width="1.5"/><text transform="translate(286.63,647.10) rotate(45)">2020-10-01</text><line x1="383.47" y1="635.70" x2="383.47" y2="630.50" stroke="#858585" stroke-width="1.5"/><text transform="translate(380.17,647.10) rotate(45)">2021-08-01</text><line x1="467.47" y1="635.70" x2="467.47" y2="630.50" stroke="#858585" stroke-width="1.5"/><text transform="translate(464.17,647.10) rotate(45)">2022-05-01</text><line x1="552.40" y1="635.70" x2="552.40" y2="630.50" stroke="#858585" stroke-width="1.5"/><text transform="translate(549.10,647.10) rotate(45)">2023-02-01</text><line x1="65.00" y1="635.70" x2="65.00" y2="633.10" stroke="#858585" stroke-width="1.5"/><line x1="93.31" y1="635.70" x2="93.31" y2="633.10" stroke="#858585" stroke-width="1.5"/><line x1="149.00" y1="635.70" x2="149.00" y2="633.10" stroke="#858585" stroke-width="1.5"/><line x1="177.31" y1="635.70" x2="177.31" y2="633.10" stroke="#858585" stroke-width="1.5"/><line x1="233.62" y1="635.70" x2="233.62" y2="633.10" stroke="#858585" stroke-width="1.5"/><line x1="261.62" y1="635.70" x2="261.62" y2="633.10" stroke="#858585" stroke-width="1.5"/><line x1="318.24" y1="635.70" x2="318.24" y2="633.10" stroke="#858585" stroke-width="1.5"/><line x1="345.93" y1="635.70" x2="345.93" y2="633.10" stroke="#858585" stroke-width="1.5"/><line x1="411.78" y1="635.70" x2="411.78" y2="633.10" stroke="#858585" stroke-width="1.5"/><line x1="440.08" y1="635.70" x2="440.08" y2="633.10" stroke="#858585" stroke-width="1.5"/><line x1="495.78" y1="635.70" x2="495.78" y2="633.10" stroke="#858585" stroke-width="1.5"/><line x1="524.09" y1="635.70" x2="524.09" y2="633.10" stroke="#858585" stroke-width="1.5"/><path d="M37.00 382.93V635.70H556.20" fill="none" stroke="#858585" stroke-width="1.5"/><path d="M37.2 612.3 L37.7 611.7 L38.2 611.2 L38.8 612.1 L39.3 612.3 L39.9 611.8 L40.4 611.2 L41.0 611.6 L41.5 612.3 L42.0 612.2 L42.6 611.8 L43.0 611.9 L43.4 612.1 L43.8 611.5 L44.2 611.8 L44.8 612.0 L45.3 612.3 L45.7 613.1 L46.1 613.6 L46.5 614.2 L46.9 614.5 L47.5 615.3 L48.0 616.7 L48.5 617.9 L49.1 619.4 L49.6 620.2 L50.2 621.5 L50.6 621.3 L51.0 621.7 L51.4 621.4 L51.8 621.2 L52.2 621.6 L52.6 621.3 L53.0 621.7 L53.4 621.5 L53.8 621.3 L54.2 621.0 L54.6 621.1 L55.0 620.8 L55.5 621.1 L55.9 620.7 L56.3 621.0 L56.7 621.0 L57.2 622.7 L57.8 624.2 L58.3 624.7 L58.8 625.5 L59.2 625.3 L59.6 625.0 L60.0 624.8 L60.5 624.8 L60.9 624.4 L61.3 624.3 L61.7 624.1 L62.1 623.7 L62.5 623.7 L62.9 623.7 L63.3 624.0 L63.7 624.2 L64.1 624.4 L64.5 624.1 L64.9 624.1 L65.3 624.2 L65.8 624.1 L66.2 624.5 L66.6 624.4 L67.1 624.2 L67.5 624.5 L68.0 624.7 L68.6 625.3 L69.0 625.2 L69.5 625.3 L69.9 625.3 L70.3 624.9 L70.8 625.1 L71.2 625.0 L71.6 625.3 L72.0 625.2 L72.5 625.2 L72.9 625.3 L73.3 625.2 L73.8 625.5 L74.2 625.1 L74.7 625.2 L75.1 625.1 L75.5 624.9 L75.9 624.7 L76.3 624.9 L76.7 624.5 L77.1 625.0 L77.5 624.8 L77.9 624.9 L78.3 625.3 L78.9 626.3 L79.4 627.0 L80.0 627.6 L80.5 628.6 L81.0 628.7 L81.6 629.5 L82.0 629.8 L82.4 629.6 L82.8 630.0 L83.2 629.9 L83.6 630.0 L84.0 630.4 L84.4 630.4 L84.8 630.5 L85.3 630.4 L85.7 630.5 L86.1 630.9 L86.6 631.0 L87.0 631.1 L87.4 631.1 L87.8 630.4 L88.2 630.5 L88.6 630.2 L89.0 629.9 L89.4 629.7 L89.8 629.2 L90.2 629.1 L90.7 628.9 L91.1 628.9 L91.5 629.0 L91.9 628.6 L92.3 628.1 L92.7 628.1 L93.1 628.1 L93.5 627.7 L94.0 628.0 L94.6 627.8 L95.0 628.0 L95.4 628.2 L95.8 629.1 L96.2 629.1 L96.7 629.5 L97.1 629.3 L97.5 629.2 L98.0 629.8 L98.4 629.7 L98.8 629.6 L99.2 630.0 L99.7 629.9 L100.1 630.0 L100.5 629.9 L101.0 629.8 L101.4 630.2 L101.8 629.9 L102.3 630.1 L102.7 630.2 L103.2 630.4 L103.6 630.3 L104.0 629.8 L104.5 629.8 L104.9 629.9 L105.3 629.6 L105.7 629.5 L106.1 629.2 L106.5 629.1 L106.9 628.6 L107.4 628.5 L107.8 628.5 L108.2 628.3 L108.7 627.8 L109.1 627.7 L109.5 628.2 L109.9 628.5 L110.3 628.6 L110.7 628.4 L111.2 628.9 L111.6 628.5 L112.0 628.8 L112.5 628.8 L112.9 628.8 L113.3 628.9 L113.8 628.7 L114.2 628.8 L114.6 628.8 L115.1 628.9 L115.5 628.8 L116.0 628.9 L116.4 628.8 L116.9 628.8 L117.3 628.8 L117.8 628.5 L118.2 628.8 L118.7 628.7 L119.2 628.5 L119.6 628.8 L120.0 628.6 L120.5 628.6 L120.9 628.3 L121.3 628.0 L121.7 628.0 L122.1 627.8 L122.5 627.3 L122.9 627.0 L123.3 627.0 L123.7 626.9 L124.1 626.7 L124.5 626.9 L124.9 627.0 L125.3 627.0 L125.7 626.9 L126.1 627.3 L126.5 627.3 L127.0 627.1 L127.4 627.5 L127.8 627.6 L128.2 627.5 L128.6 627.6 L129.0 627.5 L129.4 627.9 L129.8 628.0 L130.2 627.8 L130.6 627.9 L131.0 627.3 L131.4 627.3 L131.8 627.3 L132.2 627.1 L132.6 626.8 L133.1 626.4 L133.6 625.5 L134.1 624.2 L134.7 623.4 L135.2 623.0 L135.6 623.2 L136.0 622.8 L136.4 623.0 L136.8 622.6 L137.2 622.7 L137.7 622.0 L138.1 622.2 L138.5 621.9 L138.9 622.3 L139.3 622.0 L139.7 622.4 L140.1 622.6 L140.5 622.9 L140.9 622.7 L141.3 623.3 L141.7 623.2 L142.1 623.0 L142.5 623.2 L142.9 622.8 L143.3 623.0 L143.8 622.6 L144.2 622.5 L144.6 621.7 L145.0 621.5 L145.4 621.0 L145.8 620.8 L146.2 620.4 L146.6 620.1 L147.1 619.5 L147.7 619.4 L148.1 619.4 L148.5 619.5 L148.9 620.2 L149.3 620.1 L149.7 620.3 L150.1 620.5 L150.5 620.2 L150.9 620.5 L151.5 620.9 L152.0 621.0 L152.6 622.1 L153.1 623.7 L153.6 624.1 L154.2 624.5 L154.6 624.6 L155.0 624.5 L155.5 624.9 L155.9 624.8 L156.3 624.8 L156.8 624.7 L157.2 624.8 L157.6 624.2 L158.1 624.7 L158.5 624.2 L158.9 624.4 L159.4 624.3 L159.8 624.6 L160.2 624.3 L160.7 624.5 L161.1 625.0 L161.5 625.1 L161.9 625.2 L162.3 625.5 L162.7 625.8 L163.1 625.7 L163.5 625.6 L163.9 625.9 L164.3 625.5 L164.7 625.9 L165.2 625.7 L165.6 626.4 L166.0 626.4 L166.4 626.5 L166.8 626.9 L167.2 627.3 L167.6 627.2 L168.0 627.2 L168.4 627.2 L168.8 626.9 L169.2 627.0 L169.6 626.6 L170.0 626.6 L170.4 626.6 L170.8 626.7 L171.2 626.6 L171.7 626.3 L172.1 626.1 L172.5 625.9 L173.0 625.4 L173.5 624.5 L174.1 625.0 L174.6 625.9 L175.2 626.4 L175.7 627.3 L176.1 627.3 L176.5 626.8 L176.9 626.7 L177.3 627.0 L177.7 626.8 L178.2 626.6 L178.6 626.6 L179.0 626.6 L179.4 626.4 L179.8 626.6 L180.2 626.5 L180.6 626.4 L181.0 626.3 L181.4 626.7 L181.8 626.6 L182.2 626.7 L182.6 626.7 L183.0 627.3 L183.4 627.0 L183.8 627.3 L184.2 626.9 L184.7 626.6 L185.1 626.7 L185.5 626.4 L185.9 626.6 L186.3 626.6 L186.7 626.4 L187.1 626.4 L187.5 626.2 L187.9 626.0 L188.3 626.3 L188.7 626.2 L189.1 626.3 L189.5 626.2 L189.9 626.5 L190.3 626.4 L190.7 626.4 L191.2 626.7 L191.6 626.6 L192.0 626.4 L192.5 626.8 L193.0 627.5 L193.6 628.0 L194.1 628.0 L194.5 627.8 L194.9 628.1 L195.3 628.0 L195.8 628.0 L196.2 627.9 L196.6 627.8 L197.1 628.3 L197.5 627.8 L197.9 628.1 L198.3 628.3 L198.7 628.6 L199.1 628.3 L199.5 628.6 L199.9 628.5 L200.4 628.9 L200.8 629.0 L201.2 629.1 L201.6 629.3 L202.0 629.5 L202.4 629.2 L202.8 629.5 L203.2 629.3 L203.6 629.3 L204.0 629.2 L204.4 629.5 L204.8 629.6 L205.2 629.5 L205.6 629.4 L206.1 629.2 L206.4 628.8 L206.9 629.2 L207.3 629.1 L207.7 628.8 L208.1 628.6 L208.5 628.6 L208.9 628.2 L209.3 628.0 L209.7 627.6 L210.1 627.3 L210.5 627.1 L210.9 627.0 L211.3 626.7 L211.7 626.9 L212.1 627.1 L212.6 627.0 L212.9 626.9 L213.4 626.9 L213.8 626.7 L214.2 626.4 L214.6 626.0 L215.0 625.9 L215.4 625.6 L215.8 625.3 L216.2 625.1 L216.6 624.5 L217.0 624.0 L217.4 623.7 L218.0 622.9 L218.5 621.9 L218.9 622.1 L219.3 621.5 L219.7 621.9 L220.1 621.5 L220.5 621.4 L220.9 621.7 L221.3 621.8 L221.8 622.1 L222.3 623.0 L222.8 623.7 L223.4 624.1 L223.9 624.0 L224.3 624.1 L224.7 623.8 L225.1 624.0 L225.6 623.7 L226.1 623.9 L226.6 624.2 L227.2 626.4 L227.7 629.5 L228.3 629.5 L228.8 629.9 L229.2 630.0 L229.6 629.8 L230.0 629.7 L230.4 629.5 L230.9 629.5 L231.3 629.6 L231.7 629.2 L232.2 629.4 L232.6 629.1 L233.0 629.0 L233.4 628.8 L233.8 628.3 L234.2 628.0 L234.6 628.0 L235.0 627.8 L235.4 627.5 L235.8 627.5 L236.4 627.6 L236.9 628.0 L237.5 627.7 L238.0 627.3 L238.4 626.8 L238.8 627.1 L239.2 626.4 L239.6 626.4 L240.0 625.9 L240.4 625.6 L240.8 625.9 L241.3 625.3 L241.7 625.1 L242.1 624.9 L242.5 624.6 L242.9 624.8 L243.3 624.6 L243.7 625.1 L244.1 625.1 L244.5 625.1 L244.9 625.4 L245.3 625.5 L245.7 625.2 L246.1 625.5 L246.5 625.5 L246.9 625.2 L247.3 625.4 L247.8 625.1 L248.2 625.2 L248.6 625.2 L249.0 624.6 L249.4 624.8 L249.8 624.9 L250.2 624.8 L250.6 624.6 L251.0 624.2 L251.4 623.8 L251.8 623.6 L252.2 623.4 L252.6 623.4 L253.0 623.1 L253.4 623.6 L253.8 623.6 L254.3 623.4 L254.7 623.6 L255.1 623.9 L255.5 624.0 L255.9 624.0 L256.3 623.8 L256.7 623.6 L257.1 623.5 L257.5 623.7 L257.9 624.0 L258.3 623.7 L258.7 623.9 L259.1 624.0 L259.5 623.9 L259.9 623.6 L260.4 623.6 L260.8 623.7 L261.2 623.7 L261.6 624.0 L262.0 623.9 L262.4 624.0 L262.8 623.8 L263.2 624.0 L263.6 623.6 L264.0 623.5 L264.4 623.8 L264.8 623.7 L265.2 623.4 L265.6 623.7 L266.0 623.5 L266.4 623.4 L266.9 623.5 L267.3 623.2 L267.8 622.3 L268.3 621.5 L268.9 620.9 L269.4 619.9 L270.0 618.9 L270.5 617.8 L271.1 616.8 L271.6 616.1 L272.0 616.2 L272.4 615.6 L272.8 615.9 L273.2 615.6 L273.6 615.1 L274.0 614.7 L274.4 614.6 L274.8 614.5 L275.4 614.4 L275.9 614.0 L276.3 614.6 L276.7 614.4 L277.1 615.0 L277.6 615.4 L278.0 615.5 L278.4 615.9 L278.8 615.8 L279.2 616.1 L279.6 614.8 L280.0 613.4 L280.8 611.8 L281.3 614.5 L281.9 617.8 L282.4 617.4 L283.0 617.2 L283.4 617.3 L283.8 616.8 L284.2 617.1 L284.6 616.7 L285.1 616.4 L285.7 616.5 L286.2 616.9 L286.8 617.8 L287.3 618.1 L287.8 618.3 L288.2 618.2 L288.7 617.8 L289.1 618.0 L289.5 617.8 L289.9 617.4 L290.3 617.8 L290.7 617.7 L291.1 617.6 L291.5 617.4 L291.9 617.3 L292.4 616.9 L292.8 616.7 L293.2 616.5 L293.7 616.4 L294.1 616.5 L294.5 615.8 L295.0 616.1 L295.4 615.4 L295.8 615.5 L296.3 615.2 L296.8 615.0 L297.3 615.0 L297.8 615.5 L298.2 615.6 L298.7 616.0 L299.2 615.4 L299.7 615.2 L300.1 614.5 L300.6 613.9 L301.1 613.5 L301.6 613.1 L302.1 612.9 L302.6 612.8 L303.0 612.4 L303.5 612.0 L304.0 611.5 L304.5 610.9 L305.0 609.7 L305.5 608.7 L305.9 607.2 L306.4 605.9 L306.9 606.0 L307.4 606.6 L308.1 605.1 L308.7 606.4 L309.2 607.3 L309.7 607.1 L310.2 606.8 L310.7 606.3 L311.2 606.4 L311.6 606.9 L312.1 607.3 L312.6 606.7 L313.1 605.9 L313.6 605.1 L314.1 603.8 L314.6 603.0 L315.1 604.0 L315.6 605.1 L316.2 603.2 L316.8 600.8 L317.3 599.2 L317.9 597.9 L318.5 592.1 L318.9 583.5 L319.6 574.8 L320.1 573.2 L320.5 572.0 L320.9 576.2 L321.4 580.6 L321.8 578.6 L322.2 576.3 L322.7 572.1 L323.2 567.6 L323.7 572.5 L324.2 577.7 L324.7 572.5 L325.1 567.6 L325.6 566.8 L326.1 566.2 L326.9 570.5 L327.6 563.3 L328.0 554.6 L328.5 551.6 L329.0 548.9 L329.7 551.8 L330.3 548.1 L330.9 544.5 L331.4 543.2 L331.9 542.4 L332.6 538.8 L333.2 538.3 L333.8 538.0 L334.3 543.3 L334.8 548.9 L335.5 561.9 L336.2 563.3 L336.7 557.8 L337.2 551.8 L337.8 547.5 L338.4 543.1 L338.9 541.4 L339.4 540.5 L339.8 538.8 L340.4 541.0 L341.0 543.8 L341.5 543.4 L342.0 543.1 L342.5 546.3 L343.0 548.9 L343.4 551.9 L343.9 554.6 L344.6 548.9 L345.3 540.2 L345.8 536.0 L346.3 531.5 L347.1 527.9 L347.6 530.4 L348.2 533.0 L348.7 529.9 L349.2 527.2 L349.7 525.1 L350.2 522.9 L350.0 508.7 L350.7 517.4 L351.2 515.4 L351.6 513.9 L352.0 518.0 L352.5 522.5 L353.0 514.7 L353.5 507.0 L354.2 496.6 L354.7 489.4 L355.2 482.7 L355.9 467.1 L356.6 460.2 L357.3 453.3 L358.0 436.0 L358.5 425.6 L359.1 430.8 L359.6 444.6 L360.1 458.5 L360.6 475.8 L361.1 491.4 L360.8 511.6 L361.5 528.4 L362.1 489.5 L362.8 492.1 L363.4 519.4 L364.1 496.0 L364.7 503.8 L365.4 492.1 L366.0 501.2 L366.7 515.5 L367.3 503.8 L368.0 509.0 L368.6 503.8 L369.3 512.9 L369.9 522.0 L370.6 540.1 L371.2 531.0 L371.9 544.0 L372.5 532.3 L373.2 524.5 L373.8 527.1 L374.5 519.4 L375.0 518.6 L375.5 518.0 L376.0 520.2 L376.4 522.0 L377.1 528.4 L377.6 531.8 L378.1 534.9 L378.6 537.5 L379.0 540.1 L379.5 542.5 L379.9 544.7 L380.7 534.9 L381.2 529.7 L381.6 524.5 L382.1 520.4 L382.5 516.8 L383.3 509.0 L383.8 505.8 L384.2 502.5 L384.6 496.0 L385.4 476.7 L385.9 476.2 L386.4 475.8 L387.1 468.9 L387.6 474.2 L388.1 479.3 L388.5 476.6 L388.9 473.4 L389.4 470.6 L389.8 471.8 L390.2 473.1 L390.6 474.1 L391.1 474.9 L391.6 475.8 L392.0 470.4 L392.4 465.5 L392.8 460.2 L393.2 449.2 L393.7 437.7 L394.1 437.0 L394.6 436.0 L395.0 444.8 L395.4 453.3 L395.8 462.2 L396.3 470.6 L396.7 466.4 L397.1 461.9 L397.6 457.7 L398.0 453.3 L398.4 459.3 L398.9 465.4 L399.3 479.1 L399.7 493.1 L400.2 488.0 L400.6 482.7 L401.0 486.8 L401.5 491.4 L401.9 483.5 L402.3 475.8 L402.8 469.9 L403.2 463.7 L403.6 462.6 L404.0 461.4 L404.4 460.2 L404.9 457.5 L405.4 455.0 L405.9 449.8 L406.3 444.6 L406.7 443.4 L407.1 442.4 L407.5 441.2 L408.0 435.9 L408.4 430.8 L408.8 429.1 L409.3 427.3 L409.7 426.4 L410.1 424.8 L410.5 423.9 L410.9 420.5 L411.3 416.9 L411.8 412.2 L412.3 407.1 L412.8 402.3 L413.2 398.9 L413.7 395.4 L414.2 392.8 L414.9 398.9 L415.3 400.9 L415.8 402.3 L416.4 412.7 L417.1 431.8 L417.6 422.9 L418.0 414.5 L418.4 417.1 L418.9 419.7 L419.3 425.5 L419.7 431.8 L420.2 411.0 L420.9 401.5 L421.6 419.7 L422.3 412.7 L423.0 426.6 L423.7 428.3 L424.4 438.7 L425.1 445.7 L425.8 435.3 L426.2 433.7 L426.7 431.8 L427.1 431.2 L427.5 430.1 L428.0 429.2 L428.4 428.3 L428.8 432.4 L429.3 437.0 L429.7 444.0 L430.1 450.9 L430.6 447.4 L431.0 443.9 L431.4 449.3 L431.9 454.3 L432.3 459.5 L432.7 464.7 L433.2 471.7 L433.6 478.6 L434.0 472.7 L434.5 466.5 L434.9 468.2 L435.3 469.9 L435.8 475.9 L436.2 482.1 L436.6 489.2 L437.1 495.9 L437.7 512.6 L438.1 509.4 L438.5 506.6 L438.9 503.3 L439.3 499.8 L439.7 496.5 L440.1 497.6 L440.5 498.5 L440.9 492.2 L441.3 486.4 L441.7 481.6 L442.1 476.3 L442.5 474.7 L442.9 473.2 L443.3 476.5 L443.7 480.3 L444.1 485.2 L444.6 490.4 L444.9 496.4 L445.4 502.5 L445.8 503.2 L446.2 504.6 L446.6 501.5 L447.0 498.5 L447.4 500.5 L447.8 502.5 L448.2 494.6 L448.6 486.4 L449.0 490.3 L449.4 494.4 L449.8 501.4 L450.2 508.6 L450.7 506.4 L451.2 504.6 L451.7 506.7 L452.2 508.6 L452.7 502.8 L453.2 496.5 L453.7 492.4 L454.2 488.4 L454.8 484.2 L455.2 480.3 L455.8 475.4 L456.3 470.2 L456.8 467.6 L457.3 465.1 L457.8 465.5 L458.3 466.2 L458.8 461.9 L459.3 458.1 L459.8 465.3 L460.3 472.2 L460.8 474.4 L461.3 476.3 L461.8 479.9 L462.3 483.3 L462.8 481.3 L463.3 479.3 L463.8 480.9 L464.3 482.3 L464.9 484.2 L465.4 486.4 L465.9 488.7 L466.4 490.4 L466.9 493.4 L467.4 496.5 L467.9 492.5 L468.4 488.4 L468.9 497.7 L469.4 506.6 L469.9 514.8 L470.4 522.7 L470.9 526.8 L471.4 530.8 L471.9 532.7 L472.4 534.9 L472.9 533.9 L473.4 532.8 L473.9 534.6 L474.4 536.9 L474.9 542.1 L475.4 547.0 L476.0 541.8 L476.5 536.9 L477.0 540.1 L477.5 542.9 L478.0 542.8 L478.5 542.9 L479.0 544.9 L479.5 547.0 L480.0 554.9 L480.5 563.1 L481.0 573.3 L481.6 580.2 L482.2 584.5 L482.8 578.5 L483.5 580.2 L484.2 573.3 L484.8 575.0 L485.4 580.2 L485.9 578.5 L486.5 582.0 L487.1 578.5 L487.8 574.2 L488.5 576.8 L489.1 574.2 L489.7 578.5 L490.2 582.0 L490.8 571.6 L491.3 562.9 L491.7 556.0 L492.1 555.9 L492.6 556.0 L493.2 557.7 L493.7 562.0 L494.1 549.0 L494.7 549.0 L495.4 551.6 L496.0 553.4 L496.6 549.9 L497.3 549.0 L498.0 547.3 L498.6 541.3 L499.1 536.9 L499.7 536.1 L500.4 539.5 L500.9 543.0 L501.5 552.5 L502.1 555.1 L502.7 551.6 L503.2 550.8 L503.8 562.0 L504.2 556.8 L504.9 555.1 L505.4 555.4 L505.8 556.0 L506.2 555.7 L506.7 556.0 L507.3 554.2 L507.9 547.3 L508.4 546.5 L509.0 553.4 L509.6 558.6 L510.3 564.6 L510.7 568.2 L511.2 571.6 L511.9 570.7 L512.5 568.1 L512.9 568.4 L513.3 569.0 L513.8 568.4 L514.2 568.1 L514.6 568.4 L515.1 569.0 L515.7 567.2 L516.4 569.0 L516.8 569.6 L517.2 570.3 L517.7 570.4 L518.1 570.7 L518.5 570.6 L519.0 570.3 L519.4 570.1 L519.8 569.8 L520.3 569.5 L520.7 569.4 L521.4 562.9 L522.0 557.7 L522.6 556.0 L523.3 554.2 L523.7 555.4 L524.2 556.0 L524.9 553.4 L525.5 554.2 L525.9 560.3 L526.3 570.7 L526.6 579.4 L527.2 571.6 L527.8 572.4 L528.5 573.3 L529.2 574.2 L529.8 578.5 L530.4 575.9 L531.1 576.8 L531.8 575.9 L532.4 574.2 L533.0 570.7 L533.7 571.6 L534.1 571.5 L534.5 571.1 L535.0 571.1 L535.4 571.6 L535.8 571.3 L536.3 570.7 L537.0 569.8 L537.6 571.6 L538.0 575.9 L538.7 575.0 L539.1 574.8 L539.6 574.2 L540.1 574.5 L540.6 574.6 L541.1 574.6 L541.6 575.0 L542.2 575.2 L542.8 575.0 L543.2 574.7 L543.6 574.2 L544.2 572.6 L544.8 571.6 L545.2 569.5 L545.6 568.1 L546.2 563.8 L546.8 557.7 L547.5 556.0 L548.2 557.7 L548.8 552.9 L549.3 554.2 L550.0 555.1 L550.6 556.0 L551.0 555.4 L551.4 554.2 L551.9 554.8 L552.3 555.1 L552.7 553.7 L553.2 552.5 L553.6 551.8 L554.0 551.6 L554.6 553.4 L555.1 557.7 L555.8 558.6" fill="none" stroke="#1b9e77" stroke-width="1.9" stroke-linejoin="round" stroke-linecap="round"/><line x1="37.00" y1="635.70" x2="556.20" y2="635.70" stroke="#5a5a5a" stroke-opacity="0.55" stroke-width="2.2" stroke-dasharray="3 7" stroke-dashoffset="0.3"/></g>
<g><text x="894.40" y="368.33" text-anchor="middle">Gold</text><line x1="635.00" y1="635.70" x2="639.80" y2="635.70" stroke="#858585" stroke-width="1.5"/><text x="627.30" y="640.90" text-anchor="end">1100</text><line x1="635.00" y1="610.42" x2="639.80" y2="610.42" stroke="#858585" stroke-width="1.5"/><text x="627.30" y="615.62" text-anchor="end">1200</text><line x1="635.00" y1="585.15" x2="639.80" y2="585.15" stroke="#858585" stroke-width="1.5"/><text x="627.30" y="590.35" text-anchor="end">1300</text><line x1="635.00" y1="559.87" x2="639.80" y2="559.87" stroke="#858585" stroke-width="1.5"/><text x="627.30" y="565.07" text-anchor="end">1400</text><line x1="635.00" y1="534.59" x2="639.80" y2="534.59" stroke="#858585" stroke-width="1.5"/><text x="627.30" y="539.79" text-anchor="end">1500</text><line x1="635.00" y1="509.32" x2="639.80" y2="509.32" stroke="#858585" stroke-width="1.5"/><text x="627.30" y="514.52" text-anchor="end">1600</text><line x1="635.00" y1="484.04" x2="639.80" y2="484.04" stroke="#858585" stroke-width="1.5"/><text x="627.30" y="489.24" text-anchor="end">1700</text><line x1="635.00" y1="458.76" x2="639.80" y2="458.76" stroke="#858585" stroke-width="1.5"/><text x="627.30" y="463.96" text-anchor="end">1800</text><line x1="635.00" y1="433.48" x2="639.80" y2="433.48" stroke="#858585" stroke-width="1.5"/><text x="627.30" y="438.68" text-anchor="end">1900</text><line x1="635.00" y1="408.21" x2="639.80" y2="408.21" stroke="#858585" stroke-width="1.5"/><text x="627.30" y="413.41" text-anchor="end">2000</text><line x1="635.00" y1="382.93" x2="639.80" y2="382.93" stroke="#858585" stroke-width="1.5"/><text x="627.30" y="388.13" text-anchor="end">2100</text><line x1="634.69" y1="635.70" x2="634.69" y2="630.50" stroke="#858585" stroke-width="1.5"/><line x1="719.00" y1="635.70" x2="719.00" y2="630.50" stroke="#858585" stroke-width="1.5"/><text transform="translate(715.70,647.10) rotate(45)">2019-04-01</text><line x1="803.62" y1="635.70" x2="803.62" y2="630.50" stroke="#858585" stroke-width="1.5"/><text transform="translate(800.32,647.10) rotate(45)">2020-01-01</text><line x1="887.93" y1="635.70" x2="887.93" y2="630.50" stroke="#858585" stroke-width="1.5"/><text transform="translate(884.63,647.10) rotate(45)">2020-10-01</text><line x1="981.47" y1="635.70" x2="981.47" y2="630.50" stroke="#858585" stroke-width="1.5"/><text transform="translate(978.17,647.10) rotate(45)">2021-08-01</text><line x1="1065.47" y1="635.70" x2="1065.47" y2="630.50" stroke="#858585" stroke-width="1.5"/><text transform="translate(1062.17,647.10) rotate(45)">2022-05-01</text><line x1="1150.40" y1="635.70" x2="1150.40" y2="630.50" stroke="#858585" stroke-width="1.5"/><text transform="translate(1147.10,647.10) rotate(45)">2023-02-01</text><line x1="663.00" y1="635.70" x2="663.00" y2="633.10" stroke="#858585" stroke-width="1.5"/><line x1="691.31" y1="635.70" x2="691.31" y2="633.10" stroke="#858585" stroke-width="1.5"/><line x1="747.00" y1="635.70" x2="747.00" y2="633.10" stroke="#858585" stroke-width="1.5"/><line x1="775.31" y1="635.70" x2="775.31" y2="633.10" stroke="#858585" stroke-width="1.5"/><line x1="831.62" y1="635.70" x2="831.62" y2="633.10" stroke="#858585" stroke-width="1.5"/><line x1="859.62" y1="635.70" x2="859.62" y2="633.10" stroke="#858585" stroke-width="1.5"/><line x1="916.24" y1="635.70" x2="916.24" y2="633.10" stroke="#858585" stroke-width="1.5"/><line x1="943.93" y1="635.70" x2="943.93" y2="633.10" stroke="#858585" stroke-width="1.5"/><line x1="1009.78" y1="635.70" x2="1009.78" y2="633.10" stroke="#858585" stroke-width="1.5"/><line x1="1038.08" y1="635.70" x2="1038.08" y2="633.10" stroke="#858585" stroke-width="1.5"/><line x1="1093.78" y1="635.70" x2="1093.78" y2="633.10" stroke="#858585" stroke-width="1.5"/><line x1="1122.09" y1="635.70" x2="1122.09" y2="633.10" stroke="#858585" stroke-width="1.5"/><path d="M635.00 382.93V635.70H1153.80" fill="none" stroke="#858585" stroke-width="1.5"/><path d="M635.0 598.5 L635.8 595.5 L636.3 595.8 L636.8 596.5 L637.5 599.0 L638.0 599.6 L638.5 600.5 L639.2 603.0 L639.6 603.5 L640.1 603.6 L640.5 604.0 L641.0 603.3 L641.5 603.0 L642.0 603.5 L642.5 603.5 L643.0 603.2 L643.5 602.5 L644.0 603.0 L644.5 604.0 L645.0 604.7 L645.5 605.0 L645.9 605.6 L646.4 606.2 L646.8 606.5 L647.5 610.0 L648.2 614.0 L649.0 613.0 L649.8 612.0 L650.5 609.0 L651.0 608.1 L651.5 607.0 L652.0 608.0 L652.5 608.5 L653.0 609.7 L653.5 610.5 L654.0 611.0 L654.5 611.0 L655.0 610.3 L655.5 610.0 L656.0 609.6 L656.5 609.0 L657.0 609.3 L657.5 609.5 L658.0 609.1 L658.5 608.5 L659.0 609.2 L659.5 610.0 L660.0 610.0 L660.5 609.5 L661.2 612.5 L662.0 611.5 L662.5 611.8 L663.0 612.0 L663.5 611.1 L664.0 610.5 L664.8 613.0 L665.5 604.0 L666.0 603.3 L666.5 603.0 L667.0 603.0 L667.5 603.5 L667.9 603.2 L668.4 602.6 L668.8 602.5 L669.3 602.2 L669.8 602.0 L670.3 602.3 L670.8 603.0 L671.5 601.0 L672.0 606.0 L672.5 602.0 L673.2 604.0 L674.0 607.0 L674.5 608.0 L675.0 609.0 L675.5 609.2 L676.0 609.5 L676.5 607.0 L677.0 604.5 L677.5 604.5 L678.0 604.0 L678.5 603.5 L679.0 603.5 L679.5 605.5 L680.0 607.0 L680.8 604.0 L681.5 601.0 L682.0 599.7 L682.5 598.5 L683.0 598.0 L683.5 597.5 L684.0 598.1 L684.5 598.5 L685.0 599.0 L685.5 599.0 L686.0 597.2 L686.5 595.5 L687.2 594.0 L688.0 595.5 L688.5 593.7 L689.0 592.0 L689.5 591.3 L690.0 590.0 L690.5 588.8 L691.0 588.0 L691.5 587.6 L692.0 587.0 L692.5 587.2 L693.0 587.0 L693.5 587.5 L694.0 587.4 L694.5 587.3 L695.0 587.0 L695.5 587.8 L696.0 587.9 L696.5 588.5 L697.0 589.5 L697.5 590.0 L698.0 587.5 L698.5 585.0 L699.0 583.0 L699.5 581.0 L700.0 580.2 L700.5 579.0 L701.0 579.2 L701.5 580.0 L702.0 580.6 L702.5 581.0 L703.0 581.3 L703.5 581.5 L704.0 580.6 L704.5 580.0 L705.0 578.2 L705.5 576.0 L706.2 574.0 L707.0 578.0 L707.5 577.7 L708.0 577.5 L708.5 579.7 L709.0 582.0 L709.8 587.0 L710.3 588.0 L710.8 589.0 L711.3 588.2 L711.8 587.0 L712.3 585.3 L712.8 584.0 L713.3 584.2 L713.8 584.5 L714.3 583.7 L714.8 583.0 L715.3 582.0 L715.8 581.0 L716.5 580.0 L717.2 583.0 L717.8 586.0 L718.2 586.2 L718.6 585.9 L719.0 586.0 L719.5 586.3 L720.0 586.2 L720.5 584.3 L721.0 582.5 L721.8 584.0 L722.5 586.0 L723.2 589.0 L724.0 591.0 L724.5 591.0 L725.0 591.0 L725.5 590.4 L726.0 590.0 L726.8 589.0 L727.5 590.0 L728.2 591.5 L729.0 590.0 L729.5 589.8 L730.0 589.5 L730.5 589.0 L731.0 588.0 L731.8 585.5 L732.5 588.0 L733.2 591.0 L733.7 590.6 L734.2 590.0 L734.7 590.7 L735.2 591.0 L735.7 590.4 L736.2 590.0 L737.0 586.0 L737.5 582.0 L738.2 579.0 L739.0 576.5 L739.5 574.5 L740.2 576.0 L741.0 576.5 L741.8 574.5 L742.5 573.0 L743.0 568.0 L743.1 564.6 L743.5 561.0 L744.0 557.7 L744.4 556.4 L744.8 555.4 L745.2 556.0 L745.6 556.5 L746.1 559.5 L746.5 562.3 L747.1 555.4 L747.5 556.7 L747.9 557.7 L748.4 558.3 L748.8 559.4 L749.4 558.7 L750.0 557.7 L750.6 556.8 L751.1 555.4 L751.7 554.2 L752.3 553.1 L752.9 553.1 L753.5 553.6 L754.0 554.4 L754.6 555.4 L755.1 553.9 L755.5 553.1 L756.1 549.6 L756.7 543.8 L757.3 536.9 L757.8 531.1 L758.2 530.7 L758.6 530.6 L759.0 531.1 L759.5 531.1 L759.9 529.5 L760.4 527.7 L760.8 528.4 L761.3 528.8 L761.7 530.2 L762.1 531.1 L762.5 530.0 L762.9 528.3 L763.4 525.4 L763.8 522.5 L764.3 523.7 L764.8 524.8 L765.2 523.4 L765.6 521.9 L766.1 521.2 L766.7 520.2 L767.1 523.4 L767.5 526.5 L768.0 529.5 L768.5 532.3 L768.9 533.0 L769.4 534.0 L769.8 533.8 L770.2 533.5 L770.6 532.6 L771.0 531.7 L771.7 531.1 L772.1 528.4 L772.5 525.4 L772.9 528.0 L773.3 531.1 L774.0 536.9 L774.4 538.7 L774.8 541.0 L775.4 532.3 L775.8 531.7 L776.3 531.7 L776.7 531.9 L777.1 531.7 L777.5 533.4 L777.9 534.6 L778.4 535.9 L778.8 536.9 L779.4 537.1 L780.0 537.5 L780.4 536.8 L780.9 535.8 L781.3 535.1 L781.7 534.0 L782.1 534.4 L782.5 534.6 L783.0 533.9 L783.4 533.5 L783.9 532.5 L784.4 531.7 L784.8 532.5 L785.2 533.5 L785.8 538.1 L786.2 540.8 L786.7 543.8 L787.1 544.6 L787.5 545.6 L787.9 544.8 L788.3 543.8 L788.8 542.9 L789.2 541.5 L789.7 541.8 L790.1 542.7 L790.5 543.6 L790.9 544.4 L791.3 544.7 L791.8 545.6 L792.2 545.0 L792.7 545.0 L793.1 544.3 L793.6 543.2 L794.0 541.6 L794.4 539.8 L794.8 540.9 L795.2 541.5 L795.7 542.1 L796.1 542.7 L796.6 541.5 L797.0 541.0 L797.5 540.3 L797.9 539.8 L798.4 539.6 L799.0 539.2 L799.6 538.9 L800.2 538.1 L800.6 536.0 L801.0 533.5 L801.7 530.0 L802.1 529.4 L802.5 528.8 L802.9 528.2 L803.3 527.7 L804.0 520.8 L804.4 518.5 L804.8 516.7 L805.2 518.0 L805.6 519.0 L806.0 520.3 L806.5 521.9 L807.0 522.0 L807.4 522.5 L807.8 521.3 L808.2 520.8 L808.8 519.9 L809.4 519.6 L810.0 518.6 L810.5 517.3 L811.0 516.5 L811.4 516.1 L811.8 514.7 L812.3 512.7 L812.7 513.6 L813.2 515.0 L813.6 517.5 L814.0 519.6 L814.4 517.7 L814.8 516.1 L815.3 515.9 L815.7 516.1 L816.2 515.7 L816.7 515.0 L817.1 512.5 L817.5 510.4 L817.9 508.8 L818.3 506.9 L819.0 501.1 L819.2 493.6 L819.6 492.2 L820.1 491.2 L820.5 503.7 L821.0 516.6 L821.5 511.0 L821.9 505.1 L822.5 498.3 L823.1 491.2 L823.7 492.6 L824.2 493.6 L824.8 508.7 L825.4 523.6 L826.0 530.2 L826.5 537.4 L827.1 532.9 L827.7 528.2 L828.4 512.0 L828.9 504.1 L829.3 495.9 L829.8 497.0 L830.2 498.2 L830.7 504.2 L831.2 509.7 L831.6 501.5 L832.1 493.6 L832.5 489.2 L833.0 484.3 L833.5 478.7 L833.9 472.8 L834.4 470.2 L834.9 468.1 L835.3 470.2 L835.8 472.8 L836.4 478.6 L836.9 484.3 L837.5 479.9 L838.1 475.1 L838.7 478.3 L839.2 482.0 L839.8 480.7 L840.4 479.7 L841.0 482.1 L841.6 484.3 L842.1 482.9 L842.7 482.0 L843.3 479.9 L843.9 477.4 L844.5 474.5 L845.0 471.6 L845.6 474.2 L846.2 477.4 L846.8 475.0 L847.3 472.8 L847.9 475.1 L848.5 477.4 L849.1 474.5 L849.6 471.6 L850.2 476.9 L850.8 482.0 L851.4 484.1 L852.0 486.6 L852.6 477.4 L853.2 477.0 L853.8 476.2 L854.2 475.9 L854.6 475.7 L855.0 475.4 L855.4 475.1 L856.0 470.4 L856.6 465.8 L857.0 464.6 L857.5 463.7 L858.0 462.6 L858.4 461.2 L858.8 460.8 L859.2 460.1 L859.6 459.4 L860.0 458.9 L860.6 456.9 L861.2 455.4 L861.8 456.9 L862.3 457.8 L862.8 457.0 L863.1 456.2 L863.6 455.1 L864.0 454.3 L864.4 452.8 L864.9 451.5 L865.4 449.7 L865.8 442.9 L866.3 435.8 L866.7 430.1 L867.2 424.3 L867.7 419.5 L868.1 415.0 L868.7 411.5 L869.3 408.1 L870.0 396.6 L870.4 393.9 L870.9 390.8 L871.6 398.9 L872.3 410.4 L872.7 412.6 L873.2 415.0 L873.7 410.5 L874.1 405.8 L874.6 412.8 L875.0 419.6 L875.6 422.2 L876.2 424.3 L876.8 419.8 L877.4 415.0 L877.9 420.1 L878.5 425.4 L879.1 422.2 L879.7 419.6 L880.2 420.6 L880.8 421.9 L881.4 420.8 L882.0 419.6 L882.5 418.5 L883.1 417.3 L883.7 424.4 L884.3 431.2 L884.9 436.0 L885.4 440.4 L886.0 437.8 L886.6 435.8 L887.2 434.9 L887.8 433.5 L888.3 431.4 L888.9 428.9 L889.5 430.2 L890.1 431.2 L890.6 428.9 L891.2 426.6 L891.8 428.7 L892.4 431.2 L892.9 430.2 L893.5 428.9 L894.1 430.2 L894.7 431.2 L895.2 432.4 L895.8 433.5 L896.4 437.2 L897.0 440.4 L897.6 431.1 L898.1 421.9 L898.7 428.6 L899.3 435.8 L899.9 437.0 L900.5 438.1 L901.0 439.4 L901.6 440.4 L902.2 442.6 L902.8 445.1 L903.3 447.5 L903.9 449.7 L904.5 455.7 L905.1 461.2 L905.6 457.6 L906.2 454.3 L906.8 450.9 L907.4 447.4 L908.0 445.1 L908.5 442.7 L909.1 443.9 L909.7 445.1 L910.3 442.6 L910.8 440.4 L911.4 438.6 L912.0 437.0 L912.8 437.9 L913.3 437.8 L913.8 437.3 L914.3 437.2 L914.7 436.8 L915.1 436.6 L915.6 433.4 L916.0 430.8 L916.7 423.0 L917.1 419.7 L917.6 429.5 L918.0 438.6 L918.4 449.0 L918.8 447.9 L919.3 446.4 L919.8 447.8 L920.3 449.0 L920.8 446.9 L921.2 445.1 L921.9 441.8 L922.5 446.4 L923.2 443.8 L923.8 447.7 L924.5 443.8 L925.1 446.4 L925.8 443.1 L926.4 449.0 L927.1 459.4 L927.7 449.0 L928.4 450.3 L929.0 454.2 L929.7 458.1 L930.3 464.6 L931.0 459.4 L931.6 461.9 L932.3 458.1 L932.9 468.4 L933.6 476.2 L934.2 477.5 L934.9 482.7 L935.4 485.7 L935.9 488.6 L936.4 483.9 L936.8 478.8 L937.3 478.4 L937.7 477.5 L938.5 476.2 L939.0 474.9 L939.4 473.6 L939.9 474.3 L940.3 474.9 L940.8 475.6 L941.4 476.2 L941.9 476.7 L942.4 477.5 L943.0 486.6 L943.7 477.5 L944.2 476.1 L944.6 474.9 L945.1 472.8 L945.5 471.0 L946.0 472.5 L946.6 473.6 L947.1 471.0 L947.6 468.4 L948.0 466.5 L948.5 464.6 L948.9 463.4 L949.4 462.4 L949.8 461.3 L950.2 462.2 L950.7 463.2 L951.1 464.6 L951.5 465.3 L952.0 465.3 L952.4 465.8 L952.9 463.7 L953.3 461.9 L953.8 457.5 L954.4 452.9 L954.9 451.7 L955.4 450.3 L955.8 450.7 L956.3 451.6 L956.8 449.0 L957.2 446.4 L958.0 439.9 L958.4 438.5 L958.9 437.3 L959.4 436.6 L959.8 436.0 L960.3 434.4 L960.8 433.4 L961.4 432.1 L961.9 431.4 L962.3 432.1 L962.8 432.1 L963.4 438.6 L964.1 434.0 L964.5 434.6 L965.0 434.7 L965.5 436.6 L966.0 438.6 L966.6 441.9 L967.1 445.1 L967.6 464.6 L968.4 464.6 L968.8 463.8 L969.3 463.2 L969.7 464.4 L970.2 465.2 L970.7 464.8 L971.2 464.6 L971.8 462.9 L972.3 460.6 L972.7 459.5 L973.2 458.1 L973.6 457.4 L974.0 456.6 L974.5 455.4 L974.9 454.0 L975.4 452.9 L976.2 455.4 L976.6 455.8 L977.1 456.8 L977.5 457.6 L978.0 458.7 L978.5 458.2 L979.0 458.1 L979.5 454.6 L980.1 451.6 L980.5 453.2 L981.0 455.4 L981.4 454.8 L981.9 454.2 L982.7 459.4 L983.2 468.4 L983.7 476.2 L984.5 467.1 L985.3 461.9 L985.7 462.2 L986.2 461.9 L986.6 461.3 L987.1 460.6 L987.6 459.0 L988.1 456.8 L988.6 456.0 L989.2 454.8 L989.6 454.2 L990.1 454.2 L990.5 452.9 L991.0 451.6 L991.8 454.2 L992.2 456.7 L992.7 459.4 L993.1 458.5 L993.6 458.1 L994.4 459.4 L995.0 464.6 L995.6 469.7 L996.2 464.6 L997.0 467.1 L997.5 467.1 L998.2 469.7 L998.9 476.9 L999.5 468.4 L1000.0 468.1 L1000.5 467.1 L1000.9 467.6 L1001.4 468.4 L1001.9 468.8 L1002.4 469.1 L1002.9 467.6 L1003.4 465.8 L1004.0 460.6 L1004.7 464.6 L1005.2 463.5 L1005.6 461.9 L1006.3 459.4 L1006.7 458.8 L1007.2 458.0 L1007.6 457.4 L1008.2 458.7 L1008.9 460.6 L1009.5 465.8 L1009.9 459.4 L1010.4 456.7 L1010.8 454.2 L1011.3 450.7 L1011.8 447.7 L1012.5 442.5 L1013.0 442.4 L1013.4 441.8 L1013.9 442.1 L1014.4 441.8 L1015.1 447.7 L1015.8 455.4 L1016.4 461.9 L1016.9 462.4 L1017.3 463.2 L1017.8 462.3 L1018.2 461.9 L1019.0 465.8 L1019.5 463.8 L1019.9 461.9 L1020.4 462.5 L1020.8 463.2 L1021.4 463.2 L1021.9 462.6 L1022.5 465.8 L1023.2 459.4 L1023.7 458.9 L1024.2 458.1 L1024.8 458.5 L1025.3 457.8 L1025.7 456.4 L1026.1 455.9 L1026.5 455.4 L1026.9 454.8 L1027.3 454.1 L1027.8 452.9 L1028.3 451.5 L1028.7 453.8 L1029.1 455.3 L1029.5 457.6 L1030.0 458.2 L1030.4 459.3 L1030.8 456.9 L1031.3 454.1 L1031.7 454.7 L1032.1 454.8 L1032.5 455.0 L1033.0 452.7 L1033.5 450.7 L1033.9 450.1 L1034.3 449.7 L1034.7 448.9 L1035.2 447.4 L1035.6 446.3 L1036.0 449.2 L1036.5 452.4 L1036.9 456.6 L1037.3 461.1 L1037.8 459.1 L1038.4 457.6 L1038.9 455.9 L1039.4 454.1 L1039.9 451.3 L1040.5 448.9 L1040.8 446.5 L1041.3 444.1 L1041.7 442.0 L1042.1 437.8 L1042.5 433.3 L1043.0 432.2 L1043.4 431.6 L1043.8 430.0 L1044.3 428.1 L1044.7 431.4 L1045.1 435.1 L1045.6 430.4 L1046.0 426.4 L1046.4 424.9 L1046.9 422.9 L1047.4 412.5 L1048.1 403.9 L1048.6 397.8 L1049.0 403.3 L1049.5 409.1 L1049.9 415.4 L1050.3 421.2 L1050.8 425.8 L1051.2 429.9 L1051.6 427.5 L1052.1 424.7 L1052.5 421.9 L1052.9 419.5 L1053.4 423.8 L1053.8 428.1 L1054.2 424.4 L1054.7 421.2 L1055.1 424.1 L1055.5 426.4 L1056.0 424.9 L1056.4 422.9 L1056.8 423.9 L1057.3 424.7 L1057.7 422.9 L1058.1 421.2 L1058.6 419.4 L1059.0 417.7 L1059.4 415.3 L1059.9 412.5 L1060.3 412.1 L1060.7 411.7 L1061.2 413.9 L1061.6 416.0 L1062.0 420.1 L1062.5 424.7 L1062.9 428.0 L1063.3 431.6 L1063.8 431.3 L1064.2 431.6 L1064.6 434.3 L1065.1 436.8 L1065.5 438.6 L1065.9 440.3 L1066.4 439.2 L1066.8 438.5 L1067.2 441.4 L1067.7 443.7 L1068.1 446.2 L1068.5 448.9 L1069.0 452.3 L1069.4 455.9 L1069.8 453.9 L1070.3 452.4 L1070.7 449.6 L1071.1 447.2 L1071.6 445.7 L1072.0 443.7 L1072.4 444.5 L1072.9 445.5 L1073.3 443.5 L1073.7 442.0 L1074.2 443.7 L1074.6 445.5 L1075.0 443.2 L1075.5 441.1 L1075.9 443.5 L1076.3 445.5 L1076.8 442.6 L1077.2 440.3 L1077.6 443.1 L1078.1 445.5 L1078.5 449.5 L1078.9 454.1 L1079.4 451.8 L1079.8 448.9 L1080.2 449.3 L1080.6 449.3 L1081.0 449.8 L1081.5 450.6 L1081.9 451.4 L1082.4 452.4 L1082.8 453.4 L1083.3 454.5 L1083.8 455.9 L1084.2 458.1 L1084.6 460.8 L1085.0 462.8 L1085.4 467.4 L1085.9 471.5 L1086.3 473.4 L1086.7 474.9 L1087.1 476.4 L1087.5 478.3 L1087.9 480.1 L1088.5 481.7 L1089.0 482.7 L1089.4 481.0 L1089.8 480.0 L1090.2 478.4 L1090.6 478.3 L1091.1 478.4 L1091.5 474.3 L1091.9 469.7 L1092.4 466.0 L1092.8 462.8 L1093.2 462.1 L1093.7 461.1 L1094.1 459.8 L1094.5 458.5 L1094.9 457.6 L1095.3 456.7 L1095.8 456.6 L1096.3 455.9 L1096.7 457.0 L1097.2 458.0 L1097.6 459.3 L1098.0 461.6 L1098.5 464.2 L1098.9 466.3 L1099.3 467.8 L1099.7 469.7 L1100.2 468.0 L1100.6 466.3 L1101.0 467.8 L1101.5 469.7 L1101.9 471.3 L1102.3 473.2 L1102.8 475.9 L1103.2 478.4 L1103.6 479.4 L1104.1 480.1 L1104.5 477.3 L1104.9 474.9 L1105.4 475.5 L1105.8 476.7 L1106.2 475.5 L1106.7 474.9 L1107.1 479.3 L1107.5 483.6 L1108.0 486.2 L1108.4 488.8 L1108.8 489.5 L1109.2 490.5 L1109.7 493.8 L1110.1 497.4 L1110.5 498.4 L1111.0 499.2 L1111.4 495.0 L1111.8 490.5 L1112.3 487.2 L1112.7 483.6 L1113.2 480.2 L1113.6 476.7 L1114.0 479.1 L1114.5 481.9 L1114.9 485.9 L1115.3 490.5 L1115.8 492.4 L1116.2 494.0 L1116.6 492.2 L1117.0 490.5 L1117.5 495.0 L1117.9 499.2 L1118.3 496.3 L1118.8 494.0 L1119.2 495.0 L1119.7 495.7 L1120.1 493.9 L1120.5 492.2 L1121.0 495.1 L1121.4 497.4 L1121.8 499.0 L1122.2 500.1 L1122.7 497.0 L1123.1 494.0 L1123.5 488.5 L1124.0 483.6 L1124.4 477.8 L1124.8 471.5 L1125.3 468.8 L1125.7 466.3 L1126.2 465.6 L1126.6 464.5 L1127.0 467.0 L1127.5 469.7 L1127.9 471.3 L1128.3 473.2 L1128.8 473.4 L1129.2 473.2 L1129.6 470.5 L1130.0 468.0 L1130.5 462.6 L1130.9 457.6 L1131.3 456.6 L1131.8 455.9 L1132.2 457.6 L1132.7 459.3 L1133.1 457.3 L1133.5 455.9 L1134.0 455.0 L1134.4 454.1 L1134.8 455.8 L1135.2 457.6 L1135.7 455.0 L1136.1 452.4 L1136.5 455.2 L1137.0 458.5 L1137.4 456.4 L1137.8 454.1 L1138.3 455.2 L1138.7 455.9 L1139.2 455.2 L1139.6 454.1 L1140.0 452.7 L1140.5 451.5 L1140.9 450.4 L1141.3 448.9 L1141.8 446.2 L1142.2 443.7 L1142.6 441.3 L1143.0 438.5 L1143.5 435.7 L1143.9 433.3 L1144.3 431.8 L1144.8 429.9 L1145.2 431.0 L1145.7 431.6 L1146.1 428.1 L1146.5 424.7 L1147.0 423.8 L1147.4 422.9 L1147.8 422.1 L1148.2 421.2 L1148.7 422.9 L1149.1 424.7 L1149.5 425.2 L1150.0 426.4 L1150.4 427.5 L1150.8 428.1 L1151.3 434.9 L1151.7 442.0 L1152.2 440.9 L1152.6 440.3 L1153.0 441.8 L1153.5 443.7" fill="none" stroke="#1b9e77" stroke-width="1.9" stroke-linejoin="round" stroke-linecap="round"/></g>
</svg></body></html>
